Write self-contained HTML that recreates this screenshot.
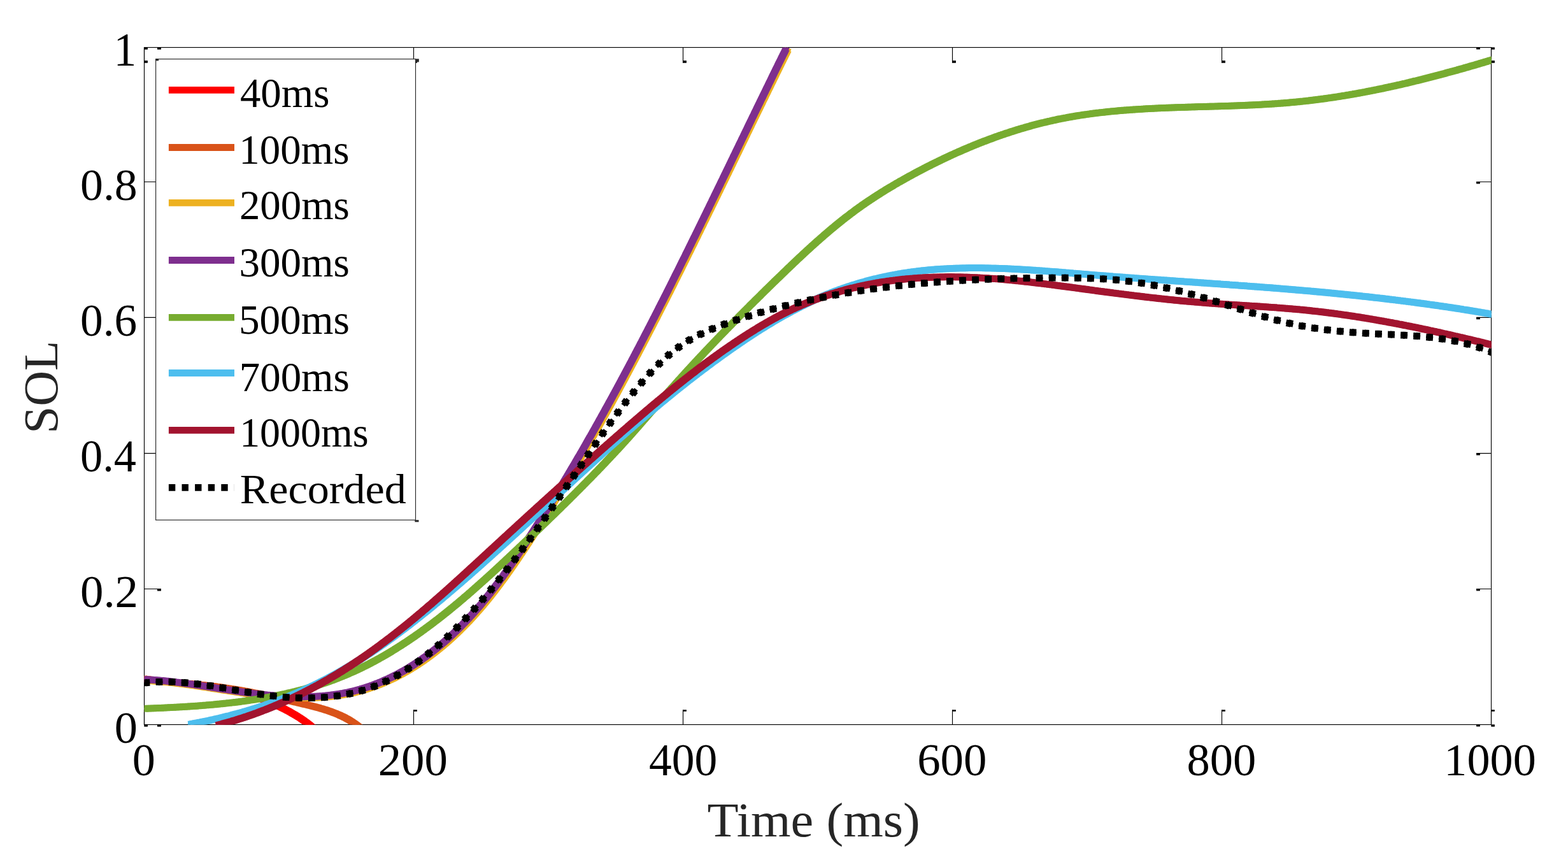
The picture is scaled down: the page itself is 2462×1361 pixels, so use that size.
<!DOCTYPE html><html><head><meta charset="utf-8"><title>SOL vs Time</title><style>html,body{margin:0;padding:0;background:#fff;overflow:hidden}svg{display:block}</style></head><body><svg width="2462" height="1361" viewBox="0 0 2462 1361">
<rect width="2462" height="1361" fill="#fff"/>
<defs><clipPath id="ax"><rect x="226.5" y="74.5" width="2115.0" height="1063.0"/></clipPath></defs>
<g stroke="#000" stroke-width="1.15" fill="none">
<rect x="226.5" y="74.5" width="2115.0" height="1063.0"/>
<path d="M226.5,1137.5V1114.2M226.5,74.5V98.8"/>
<path d="M649.5,1137.5V1114.2M649.5,74.5V98.8"/>
<path d="M1072.5,1137.5V1114.2M1072.5,74.5V98.8"/>
<path d="M1495.5,1137.5V1114.2M1495.5,74.5V98.8"/>
<path d="M1918.5,1137.5V1114.2M1918.5,74.5V98.8"/>
<path d="M2341.5,1137.5V1114.2M2341.5,74.5V98.8"/>
<path d="M226.5,1137.5H252.9M2341.5,1137.5H2318.1"/>
<path d="M226.5,924.5H252.9M2341.5,924.5H2318.1"/>
<path d="M226.5,711.6H252.9M2341.5,711.6H2318.1"/>
<path d="M226.5,498.3H252.9M2341.5,498.3H2318.1"/>
<path d="M226.5,285.5H252.9M2341.5,285.5H2318.1"/>
<path d="M226.5,74.5H252.9M2341.5,74.5H2318.1"/>
</g>
<g fill="#000"><rect x="226.3" y="1114.2" width="5.6" height="2.6"/><rect x="226.3" y="95.1" width="5.6" height="3.7"/><rect x="649.3" y="1114.2" width="5.6" height="2.6"/><rect x="649.3" y="95.1" width="5.6" height="3.7"/><rect x="1072.3" y="1114.2" width="5.6" height="2.6"/><rect x="1072.3" y="95.1" width="5.6" height="3.7"/><rect x="1495.3" y="1114.2" width="5.6" height="2.6"/><rect x="1495.3" y="95.1" width="5.6" height="3.7"/><rect x="1918.3" y="1114.2" width="5.6" height="2.6"/><rect x="1918.3" y="95.1" width="5.6" height="3.7"/><rect x="2341.3" y="1114.2" width="5.6" height="2.6"/><rect x="2341.3" y="95.1" width="5.6" height="3.7"/><rect x="247.0" y="1137.1" width="5.9" height="3.6"/><rect x="2318.1" y="1137.1" width="5.8" height="3.4"/><rect x="247.0" y="924.1" width="5.9" height="3.6"/><rect x="2318.1" y="924.1" width="5.8" height="3.4"/><rect x="247.0" y="711.2" width="5.9" height="3.6"/><rect x="2318.1" y="711.2" width="5.8" height="3.4"/><rect x="247.0" y="497.9" width="5.9" height="3.6"/><rect x="2318.1" y="497.9" width="5.8" height="3.4"/><rect x="247.0" y="285.1" width="5.9" height="3.6"/><rect x="2318.1" y="285.1" width="5.8" height="3.4"/><rect x="247.0" y="74.1" width="5.9" height="3.6"/><rect x="2318.1" y="74.1" width="5.8" height="3.4"/><rect x="226.3" y="74.3" width="5.6" height="3.4"/><rect x="2341.3" y="74.3" width="5.6" height="3.4"/><rect x="226.3" y="1137.3" width="5.6" height="3.4"/><rect x="2341.3" y="1137.3" width="5.6" height="3.4"/></g>
<g clip-path="url(#ax)" fill="none" stroke-linejoin="round" stroke-linecap="butt">
<g stroke="#FF0000" stroke-width="7.0">
<path id="c0" d="M226.5,1065.9 L228.5,1066.2 L230.5,1066.5 L232.4,1066.8 L234.4,1067.1 L236.4,1067.4 L238.3,1067.7 L240.3,1067.9 L242.3,1068.2 L244.3,1068.4 L246.3,1068.7 L248.2,1068.9 L250.2,1069.2 L252.2,1069.4 L254.2,1069.6 L256.2,1069.8 L258.2,1070.0 L260.2,1070.2 L262.2,1070.4 L264.2,1070.6 L266.2,1070.8 L268.2,1071.0 L270.2,1071.2 L272.2,1071.4 L274.2,1071.6 L276.2,1071.7 L278.2,1071.9 L280.2,1072.1 L282.2,1072.3 L284.2,1072.5 L286.2,1072.6 L288.2,1072.8 L290.2,1073.0 L292.2,1073.1 L294.2,1073.3 L296.2,1073.5 L298.2,1073.7 L300.2,1073.9 L302.2,1074.0 L304.2,1074.2 L306.2,1074.4 L308.2,1074.6 L310.2,1074.8 L312.2,1075.0 L314.2,1075.2 L316.2,1075.4 L318.2,1075.6 L320.2,1075.8 L322.2,1076.1 L324.2,1076.3 L326.2,1076.5 L328.2,1076.8 L330.2,1077.0 L332.2,1077.3 L334.1,1077.5 L336.1,1077.8 L338.1,1078.1 L340.1,1078.4 L342.1,1078.7 L344.0,1079.0 L346.0,1079.3 L348.0,1079.6 L349.9,1080.0 L351.9,1080.3 L353.8,1080.7 L355.8,1081.0 L357.8,1081.4 L359.7,1081.8 L361.7,1082.2 L363.6,1082.6 L365.5,1083.0 L367.5,1083.5 L369.4,1083.9 L371.3,1084.4 L373.3,1084.9 L375.2,1085.3 L377.1,1085.8 L379.0,1086.4 L381.0,1086.9 L382.9,1087.4 L384.8,1088.0 L386.7,1088.6 L388.6,1089.1 L390.5,1089.7 L392.4,1090.4 L394.2,1091.0 L396.1,1091.6 L398.0,1092.3 L399.9,1093.0 L401.8,1093.7 L403.6,1094.3 L405.5,1095.0 L407.4,1095.8 L409.2,1096.5 L411.1,1097.2 L412.9,1098.0 L414.8,1098.7 L416.7,1099.4 L418.5,1100.2 L420.4,1101.0 L422.2,1101.7 L424.1,1102.5 L425.9,1103.3 L427.7,1104.1 L429.6,1104.9 L431.4,1105.8 L433.2,1106.6 L435.0,1107.4 L436.9,1108.3 L438.7,1109.1 L440.5,1110.0 L442.3,1110.9 L444.1,1111.8 L445.9,1112.7 L447.7,1113.6 L449.4,1114.5 L451.2,1115.4 L453.0,1116.4 L454.7,1117.3 L456.5,1118.3 L458.2,1119.3 L459.9,1120.3 L461.7,1121.3 L463.4,1122.3 L465.1,1123.4 L466.8,1124.4 L468.5,1125.5 L470.2,1126.5 L471.8,1127.6 L473.5,1128.7 L475.1,1129.9 L476.8,1131.0 L478.4,1132.2 L480.0,1133.3 L481.6,1134.5 L483.2,1135.7 L484.8,1136.9 L486.4,1138.1 L487.9,1139.4 L489.5,1140.7 L491.0,1141.9 L492.6,1143.2 L494.1,1144.6 L495.6,1145.9 L497.0,1147.2 L498.5,1148.6 L500.0,1150.0" transform="translate(-1.85,-1.85)"/>
<use href="#c0" transform="translate(3.70,0.00)"/>
<use href="#c0" transform="translate(0.00,3.70)"/>
<use href="#c0" transform="translate(3.70,3.70)"/>
</g>
<g stroke="#D95319" stroke-width="7.0">
<path id="c1" d="M226.5,1065.9 L228.5,1066.1 L230.5,1066.4 L232.5,1066.6 L234.4,1066.9 L236.4,1067.1 L238.4,1067.4 L240.4,1067.6 L242.4,1067.8 L244.4,1068.1 L246.4,1068.3 L248.3,1068.5 L250.3,1068.7 L252.3,1069.0 L254.3,1069.2 L256.3,1069.4 L258.3,1069.6 L260.3,1069.8 L262.3,1070.0 L264.3,1070.2 L266.3,1070.4 L268.3,1070.6 L270.3,1070.8 L272.3,1071.0 L274.3,1071.2 L276.3,1071.4 L278.3,1071.6 L280.3,1071.8 L282.3,1072.0 L284.3,1072.2 L286.3,1072.4 L288.3,1072.6 L290.3,1072.8 L292.3,1072.9 L294.3,1073.1 L296.3,1073.3 L298.3,1073.5 L300.3,1073.7 L302.3,1073.9 L304.3,1074.1 L306.3,1074.3 L308.3,1074.5 L310.3,1074.7 L312.3,1074.9 L314.3,1075.1 L316.3,1075.3 L318.3,1075.6 L320.3,1075.8 L322.3,1076.0 L324.3,1076.2 L326.3,1076.4 L328.3,1076.7 L330.3,1076.9 L332.3,1077.1 L334.3,1077.4 L336.3,1077.6 L338.3,1077.8 L340.3,1078.1 L342.3,1078.3 L344.3,1078.6 L346.2,1078.9 L348.2,1079.1 L350.2,1079.4 L352.2,1079.7 L354.2,1080.0 L356.1,1080.3 L358.1,1080.6 L360.1,1080.8 L362.1,1081.2 L364.0,1081.5 L366.0,1081.8 L368.0,1082.1 L370.0,1082.4 L371.9,1082.7 L373.9,1083.1 L375.9,1083.4 L377.8,1083.7 L379.8,1084.1 L381.8,1084.4 L383.7,1084.8 L385.7,1085.1 L387.6,1085.5 L389.6,1085.9 L391.6,1086.2 L393.5,1086.6 L395.5,1087.0 L397.4,1087.4 L399.4,1087.8 L401.4,1088.1 L403.3,1088.5 L405.3,1088.9 L407.2,1089.3 L409.2,1089.7 L411.1,1090.1 L413.1,1090.6 L415.1,1091.0 L417.0,1091.4 L419.0,1091.8 L420.9,1092.2 L422.9,1092.7 L424.8,1093.1 L426.8,1093.5 L428.7,1094.0 L430.7,1094.4 L432.6,1094.8 L434.6,1095.3 L436.5,1095.7 L438.5,1096.2 L440.5,1096.6 L442.4,1097.1 L444.4,1097.5 L446.3,1098.0 L448.3,1098.5 L450.2,1098.9 L452.2,1099.4 L454.2,1099.8 L456.1,1100.3 L458.1,1100.8 L460.0,1101.2 L462.0,1101.7 L464.0,1102.1 L465.9,1102.6 L467.9,1103.1 L469.9,1103.5 L471.8,1104.0 L473.8,1104.4 L475.8,1104.9 L477.7,1105.4 L479.7,1105.8 L481.7,1106.3 L483.6,1106.8 L485.6,1107.3 L487.6,1107.7 L489.5,1108.2 L491.5,1108.7 L493.4,1109.2 L495.4,1109.7 L497.3,1110.3 L499.2,1110.8 L501.2,1111.3 L503.1,1111.9 L505.0,1112.4 L507.0,1113.0 L508.9,1113.6 L510.8,1114.2 L512.7,1114.8 L514.6,1115.4 L516.5,1116.1 L518.4,1116.7 L520.2,1117.4 L522.1,1118.1 L524.0,1118.8 L525.8,1119.5 L527.6,1120.2 L529.5,1121.0 L531.3,1121.8 L533.1,1122.6 L534.9,1123.4 L536.7,1124.2 L538.5,1125.1 L540.3,1125.9 L542.0,1126.8 L543.8,1127.8 L545.5,1128.7 L547.2,1129.7 L548.9,1130.7 L550.6,1131.7 L552.3,1132.8 L554.0,1133.9 L555.6,1135.0 L557.3,1136.1 L558.9,1137.3 L560.5,1138.4 L562.1,1139.7 L563.7,1140.9 L565.2,1142.2 L566.8,1143.5 L568.3,1144.9 L569.8,1146.3 L571.3,1147.7" transform="translate(-1.85,-1.85)"/>
<use href="#c1" transform="translate(3.70,0.00)"/>
<use href="#c1" transform="translate(0.00,3.70)"/>
<use href="#c1" transform="translate(3.70,3.70)"/>
</g>
<g stroke="#EDB120" stroke-width="7.0">
<path id="c2" d="M227.0,1066.6 L228.9,1066.6 L230.9,1066.7 L232.8,1066.8 L234.8,1067.0 L236.7,1067.1 L238.7,1067.2 L240.6,1067.3 L242.6,1067.5 L244.5,1067.6 L246.5,1067.8 L248.4,1067.9 L250.4,1068.1 L252.4,1068.3 L254.3,1068.4 L256.3,1068.6 L258.2,1068.8 L260.2,1069.0 L262.1,1069.2 L264.1,1069.4 L266.1,1069.6 L268.0,1069.8 L270.0,1070.1 L272.0,1070.3 L273.9,1070.5 L275.9,1070.8 L277.9,1071.0 L279.8,1071.3 L281.8,1071.5 L283.8,1071.8 L285.7,1072.0 L287.7,1072.3 L289.7,1072.6 L291.6,1072.8 L293.6,1073.1 L295.6,1073.4 L297.6,1073.7 L299.5,1073.9 L301.5,1074.2 L303.5,1074.5 L305.5,1074.8 L307.4,1075.1 L309.4,1075.4 L311.4,1075.7 L313.4,1076.0 L315.4,1076.3 L317.3,1076.6 L319.3,1076.9 L321.3,1077.2 L323.3,1077.5 L325.3,1077.8 L327.2,1078.1 L329.2,1078.4 L331.2,1078.8 L333.2,1079.1 L335.2,1079.4 L337.2,1079.7 L339.2,1080.0 L341.2,1080.3 L343.1,1080.6 L345.1,1080.9 L347.1,1081.3 L349.1,1081.6 L351.1,1081.9 L353.1,1082.2 L355.1,1082.5 L357.1,1082.8 L359.1,1083.1 L361.1,1083.4 L363.1,1083.7 L365.1,1084.0 L367.1,1084.3 L369.1,1084.6 L371.1,1084.9 L373.0,1085.2 L375.0,1085.5 L377.0,1085.8 L379.0,1086.1 L381.0,1086.4 L383.0,1086.6 L385.1,1086.9 L387.1,1087.2 L389.1,1087.5 L391.1,1087.7 L393.1,1088.0 L395.1,1088.2 L397.1,1088.5 L399.1,1088.8 L401.1,1089.0 L403.1,1089.2 L405.1,1089.5 L407.1,1089.7 L409.1,1089.9 L411.1,1090.2 L413.1,1090.4 L415.1,1090.6 L417.2,1090.8 L419.2,1091.0 L421.2,1091.2 L423.2,1091.4 L425.2,1091.6 L427.2,1091.7 L429.2,1091.9 L431.2,1092.1 L433.3,1092.2 L435.3,1092.4 L437.3,1092.5 L439.3,1092.7 L441.3,1092.8 L443.3,1092.9 L445.4,1093.0 L447.4,1093.1 L449.4,1093.2 L451.4,1093.3 L453.4,1093.4 L455.5,1093.5 L457.5,1093.6 L459.5,1093.6 L461.5,1093.7 L463.5,1093.7 L465.5,1093.8 L467.5,1093.8 L469.6,1093.8 L471.6,1093.8 L473.6,1093.8 L475.6,1093.8 L477.6,1093.8 L479.6,1093.8 L481.6,1093.7 L483.6,1093.7 L485.6,1093.6 L487.7,1093.6 L489.7,1093.5 L491.7,1093.4 L493.7,1093.3 L495.7,1093.2 L497.7,1093.1 L499.7,1093.0 L501.6,1092.8 L503.6,1092.7 L505.6,1092.5 L507.6,1092.4 L509.6,1092.2 L511.6,1092.0 L513.6,1091.8 L515.6,1091.6 L517.5,1091.4 L519.5,1091.2 L521.5,1090.9 L523.5,1090.7 L525.4,1090.4 L527.4,1090.1 L529.3,1089.8 L531.3,1089.5 L533.3,1089.2 L535.2,1088.9 L537.2,1088.5 L539.1,1088.2 L541.1,1087.8 L543.0,1087.4 L544.9,1087.1 L546.9,1086.7 L548.8,1086.2 L550.7,1085.8 L552.7,1085.4 L554.6,1084.9 L556.5,1084.4 L558.4,1084.0 L560.3,1083.5 L562.2,1083.0 L564.1,1082.4 L566.0,1081.9 L567.9,1081.3 L569.8,1080.8 L571.7,1080.2 L573.6,1079.6 L575.5,1079.0 L577.3,1078.4 L579.2,1077.8 L581.1,1077.1 L582.9,1076.5 L584.8,1075.8 L586.6,1075.1 L588.5,1074.4 L590.3,1073.7 L592.2,1073.0 L594.0,1072.3 L595.8,1071.5 L597.7,1070.8 L599.5,1070.0 L601.3,1069.2 L603.1,1068.4 L604.9,1067.6 L606.7,1066.8 L608.5,1066.0 L610.3,1065.2 L612.1,1064.3 L613.9,1063.5 L615.7,1062.6 L617.5,1061.7 L619.2,1060.8 L621.0,1059.9 L622.8,1059.0 L624.5,1058.1 L626.3,1057.1 L628.0,1056.2 L629.8,1055.2 L631.5,1054.3 L633.3,1053.3 L635.0,1052.3 L636.7,1051.3 L638.4,1050.3 L640.1,1049.3 L641.9,1048.3 L643.6,1047.2 L645.3,1046.2 L647.0,1045.1 L648.6,1044.1 L650.3,1043.0 L652.0,1041.9 L653.7,1040.8 L655.3,1039.7 L657.0,1038.6 L658.7,1037.5 L660.3,1036.4 L662.0,1035.2 L663.6,1034.1 L665.2,1032.9 L666.9,1031.8 L668.5,1030.6 L670.1,1029.4 L671.7,1028.2 L673.4,1027.0 L675.0,1025.8 L676.6,1024.6 L678.1,1023.4 L679.7,1022.2 L681.3,1020.9 L682.9,1019.7 L684.5,1018.4 L686.0,1017.2 L687.6,1015.9 L689.1,1014.6 L690.7,1013.4 L692.2,1012.1 L693.8,1010.8 L695.3,1009.5 L696.8,1008.2 L698.3,1006.9 L699.9,1005.5 L701.4,1004.2 L702.9,1002.9 L704.4,1001.5 L705.8,1000.2 L707.3,998.9 L708.8,997.5 L710.3,996.1 L711.7,994.8 L713.2,993.4 L714.6,992.0 L716.1,990.6 L717.5,989.2 L719.0,987.8 L720.4,986.4 L721.8,985.0 L723.2,983.6 L724.6,982.2 L726.0,980.8 L727.4,979.3 L728.8,977.9 L730.2,976.5 L731.6,975.0 L733.0,973.6 L734.4,972.1 L735.7,970.7 L737.1,969.2 L738.4,967.7 L739.8,966.3 L741.1,964.8 L742.5,963.3 L743.8,961.8 L745.1,960.3 L746.4,958.8 L747.8,957.3 L749.1,955.8 L750.4,954.3 L751.7,952.8 L753.0,951.3 L754.3,949.8 L755.6,948.3 L756.9,946.7 L758.1,945.2 L759.4,943.7 L760.7,942.1 L762.0,940.6 L763.2,939.0 L764.5,937.5 L765.7,935.9 L767.0,934.3 L768.2,932.8 L769.5,931.2 L770.7,929.6 L771.9,928.1 L773.2,926.5 L774.4,924.9 L775.6,923.3 L776.8,921.7 L778.0,920.1 L779.2,918.6 L780.4,917.0 L781.7,915.4 L782.8,913.8 L784.0,912.1 L785.2,910.5 L786.4,908.9 L787.6,907.3 L788.8,905.7 L790.0,904.1 L791.1,902.4 L792.3,900.8 L793.5,899.2 L794.6,897.6 L795.8,895.9 L797.0,894.3 L798.1,892.7 L799.3,891.0 L800.4,889.4 L801.6,887.7 L802.7,886.1 L803.9,884.4 L805.0,882.8 L806.1,881.1 L807.3,879.5 L808.4,877.8 L809.5,876.2 L810.7,874.5 L811.8,872.8 L812.9,871.2 L814.0,869.5 L815.1,867.8 L816.3,866.2 L817.4,864.5 L818.5,862.8 L819.6,861.1 L820.7,859.5 L821.8,857.8 L822.9,856.1 L824.0,854.4 L825.1,852.8 L826.2,851.1 L827.3,849.4 L828.4,847.7 L829.5,846.0 L830.6,844.3 L831.7,842.7 L832.8,841.0 L833.9,839.3 L834.9,837.6 L836.0,835.9 L837.1,834.2 L838.2,832.5 L839.3,830.8 L840.3,829.1 L841.4,827.5 L842.5,825.8 L843.6,824.1 L844.7,822.4 L845.7,820.7 L846.8,819.0 L847.9,817.3 L848.9,815.6 L850.0,813.9 L851.1,812.2 L852.1,810.5 L853.2,808.8 L854.3,807.1 L855.3,805.4 L856.4,803.7 L857.5,802.0 L858.5,800.3 L859.6,798.6 L860.6,796.9 L861.7,795.2 L862.7,793.5 L863.8,791.8 L864.8,790.1 L865.9,788.4 L867.0,786.7 L868.0,784.9 L869.0,783.2 L870.1,781.5 L871.1,779.8 L872.2,778.1 L873.2,776.4 L874.3,774.7 L875.3,773.0 L876.3,771.3 L877.4,769.6 L878.4,767.8 L879.5,766.1 L880.5,764.4 L881.5,762.7 L882.6,761.0 L883.6,759.3 L884.6,757.6 L885.7,755.8 L886.7,754.1 L887.7,752.4 L888.7,750.7 L889.8,749.0 L890.8,747.2 L891.8,745.5 L892.8,743.8 L893.9,742.1 L894.9,740.4 L895.9,738.6 L896.9,736.9 L897.9,735.2 L898.9,733.5 L900.0,731.7 L901.0,730.0 L902.0,728.3 L903.0,726.6 L904.0,724.8 L905.0,723.1 L906.0,721.4 L907.0,719.6 L908.0,717.9 L909.1,716.2 L910.1,714.5 L911.1,712.7 L912.1,711.0 L913.1,709.3 L914.1,707.5 L915.1,705.8 L916.1,704.1 L917.1,702.3 L918.1,700.6 L919.1,698.9 L920.1,697.1 L921.0,695.4 L922.0,693.7 L923.0,691.9 L924.0,690.2 L925.0,688.4 L926.0,686.7 L927.0,685.0 L928.0,683.2 L929.0,681.5 L930.0,679.7 L930.9,678.0 L931.9,676.3 L932.9,674.5 L933.9,672.8 L934.9,671.0 L935.8,669.3 L936.8,667.6 L937.8,665.8 L938.8,664.1 L939.8,662.3 L940.7,660.6 L941.7,658.8 L942.7,657.1 L943.7,655.3 L944.6,653.6 L945.6,651.8 L946.6,650.1 L947.5,648.3 L948.5,646.6 L949.5,644.8 L950.4,643.1 L951.4,641.3 L952.4,639.6 L953.3,637.8 L954.3,636.1 L955.3,634.3 L956.2,632.6 L957.2,630.8 L958.2,629.1 L959.1,627.3 L960.1,625.6 L961.0,623.8 L962.0,622.1 L962.9,620.3 L963.9,618.5 L964.9,616.8 L965.8,615.0 L966.8,613.3 L967.7,611.5 L968.7,609.8 L969.6,608.0 L970.6,606.2 L971.5,604.5 L972.5,602.7 L973.4,601.0 L974.4,599.2 L975.3,597.4 L976.3,595.7 L977.2,593.9 L978.2,592.2 L979.1,590.4 L980.0,588.6 L981.0,586.9 L981.9,585.1 L982.9,583.3 L983.8,581.6 L984.7,579.8 L985.7,578.1 L986.6,576.3 L987.6,574.5 L988.5,572.8 L989.4,571.0 L990.4,569.2 L991.3,567.5 L992.2,565.7 L993.2,563.9 L994.1,562.2 L995.0,560.4 L996.0,558.6 L996.9,556.8 L997.8,555.1 L998.8,553.3 L999.7,551.5 L1000.6,549.8 L1001.5,548.0 L1002.5,546.2 L1003.4,544.4 L1004.3,542.7 L1005.2,540.9 L1006.2,539.1 L1007.1,537.4 L1008.0,535.6 L1008.9,533.8 L1009.9,532.0 L1010.8,530.3 L1011.7,528.5 L1012.6,526.7 L1013.5,524.9 L1014.5,523.2 L1015.4,521.4 L1016.3,519.6 L1017.2,517.8 L1018.1,516.1 L1019.0,514.3 L1020.0,512.5 L1020.9,510.7 L1021.8,508.9 L1022.7,507.2 L1023.6,505.4 L1024.5,503.6 L1025.4,501.8 L1026.3,500.0 L1027.3,498.3 L1028.2,496.5 L1029.1,494.7 L1030.0,492.9 L1030.9,491.1 L1031.8,489.4 L1032.7,487.6 L1033.6,485.8 L1034.5,484.0 L1035.4,482.2 L1036.3,480.5 L1037.2,478.7 L1038.1,476.9 L1039.1,475.1 L1040.0,473.3 L1040.9,471.5 L1041.8,469.8 L1042.7,468.0 L1043.6,466.2 L1044.5,464.4 L1045.4,462.6 L1046.3,460.8 L1047.2,459.0 L1048.1,457.3 L1049.0,455.5 L1049.9,453.7 L1050.8,451.9 L1051.7,450.1 L1052.6,448.3 L1053.5,446.5 L1054.4,444.7 L1055.3,443.0 L1056.1,441.2 L1057.0,439.4 L1057.9,437.6 L1058.8,435.8 L1059.7,434.0 L1060.6,432.2 L1061.5,430.4 L1062.4,428.6 L1063.3,426.9 L1064.2,425.1 L1065.1,423.3 L1066.0,421.5 L1066.9,419.7 L1067.8,417.9 L1068.6,416.1 L1069.5,414.3 L1070.4,412.5 L1071.3,410.7 L1072.2,408.9 L1073.1,407.1 L1074.0,405.4 L1074.9,403.6 L1075.8,401.8 L1076.6,400.0 L1077.5,398.2 L1078.4,396.4 L1079.3,394.6 L1080.2,392.8 L1081.1,391.0 L1082.0,389.2 L1082.8,387.4 L1083.7,385.6 L1084.6,383.8 L1085.5,382.0 L1086.4,380.2 L1087.3,378.4 L1088.1,376.6 L1089.0,374.8 L1089.9,373.1 L1090.8,371.3 L1091.7,369.5 L1092.6,367.7 L1093.4,365.9 L1094.3,364.1 L1095.2,362.3 L1096.1,360.5 L1097.0,358.7 L1097.8,356.9 L1098.7,355.1 L1099.6,353.3 L1100.5,351.5 L1101.4,349.7 L1102.2,347.9 L1103.1,346.1 L1104.0,344.3 L1104.9,342.5 L1105.8,340.7 L1106.6,338.9 L1107.5,337.1 L1108.4,335.3 L1109.3,333.5 L1110.1,331.7 L1111.0,329.9 L1111.9,328.1 L1112.8,326.3 L1113.7,324.5 L1114.5,322.7 L1115.4,320.9 L1116.3,319.1 L1117.2,317.3 L1118.0,315.5 L1118.9,313.7 L1119.8,311.9 L1120.7,310.1 L1121.5,308.3 L1122.4,306.5 L1123.3,304.7 L1124.2,302.9 L1125.0,301.1 L1125.9,299.3 L1126.8,297.5 L1127.7,295.7 L1128.5,293.9 L1129.4,292.1 L1130.3,290.3 L1131.2,288.5 L1132.0,286.7 L1132.9,284.9 L1133.8,283.1 L1134.7,281.3 L1135.5,279.5 L1136.4,277.7 L1137.3,275.9 L1138.1,274.1 L1139.0,272.3 L1139.9,270.5 L1140.8,268.7 L1141.6,266.9 L1142.5,265.1 L1143.4,263.3 L1144.3,261.5 L1145.1,259.7 L1146.0,257.9 L1146.9,256.0 L1147.8,254.2 L1148.6,252.4 L1149.5,250.6 L1150.4,248.8 L1151.2,247.0 L1152.1,245.2 L1153.0,243.4 L1153.9,241.6 L1154.7,239.8 L1155.6,238.0 L1156.5,236.2 L1157.4,234.4 L1158.2,232.6 L1159.1,230.8 L1160.0,229.0 L1160.8,227.2 L1161.7,225.4 L1162.6,223.6 L1163.5,221.8 L1164.3,220.0 L1165.2,218.2 L1166.1,216.4 L1167.0,214.6 L1167.8,212.8 L1168.7,211.0 L1169.6,209.2 L1170.4,207.4 L1171.3,205.6 L1172.2,203.8 L1173.1,202.0 L1173.9,200.2 L1174.8,198.3 L1175.7,196.5 L1176.6,194.7 L1177.4,192.9 L1178.3,191.1 L1179.2,189.3 L1180.1,187.5 L1180.9,185.7 L1181.8,183.9 L1182.7,182.1 L1183.6,180.3 L1184.4,178.5 L1185.3,176.7 L1186.2,174.9 L1187.1,173.1 L1187.9,171.3 L1188.8,169.5 L1189.7,167.7 L1190.6,165.9 L1191.4,164.1 L1192.3,162.3 L1193.2,160.5 L1194.1,158.7 L1194.9,156.9 L1195.8,155.1 L1196.7,153.3 L1197.6,151.5 L1198.5,149.7 L1199.3,147.9 L1200.2,146.1 L1201.1,144.3 L1202.0,142.5 L1202.8,140.7 L1203.7,138.9 L1204.6,137.1 L1205.5,135.3 L1206.4,133.5 L1207.2,131.7 L1208.1,129.9 L1209.0,128.1 L1209.9,126.3 L1210.8,124.5 L1211.6,122.7 L1212.5,120.8 L1213.4,119.0 L1214.3,117.2 L1215.2,115.4 L1216.0,113.6 L1216.9,111.8 L1217.8,110.0 L1218.7,108.2 L1219.6,106.4 L1220.5,104.6 L1221.3,102.8 L1222.2,101.0 L1223.1,99.2 L1224.0,97.4 L1224.9,95.6 L1225.8,93.8 L1226.7,92.0 L1227.5,90.2 L1228.4,88.5 L1229.3,86.7 L1230.2,84.9 L1231.1,83.1 L1232.0,81.3 L1232.9,79.5 L1233.7,77.7 L1234.6,75.9" transform="translate(1.15,-0.05)"/>
<use href="#c2" transform="translate(3.70,0.00)"/>
<use href="#c2" transform="translate(0.00,3.70)"/>
<use href="#c2" transform="translate(3.70,3.70)"/>
</g>
<g stroke="#7E2F8E" stroke-width="7.0">
<path id="c3" d="M227.0,1066.6 L228.9,1066.6 L230.9,1066.7 L232.8,1066.8 L234.8,1067.0 L236.7,1067.1 L238.7,1067.2 L240.6,1067.3 L242.6,1067.5 L244.5,1067.6 L246.5,1067.8 L248.4,1067.9 L250.4,1068.1 L252.4,1068.3 L254.3,1068.4 L256.3,1068.6 L258.2,1068.8 L260.2,1069.0 L262.1,1069.2 L264.1,1069.4 L266.1,1069.6 L268.0,1069.8 L270.0,1070.1 L272.0,1070.3 L273.9,1070.5 L275.9,1070.8 L277.9,1071.0 L279.8,1071.3 L281.8,1071.5 L283.8,1071.8 L285.7,1072.0 L287.7,1072.3 L289.7,1072.6 L291.6,1072.8 L293.6,1073.1 L295.6,1073.4 L297.6,1073.7 L299.5,1073.9 L301.5,1074.2 L303.5,1074.5 L305.5,1074.8 L307.4,1075.1 L309.4,1075.4 L311.4,1075.7 L313.4,1076.0 L315.4,1076.3 L317.3,1076.6 L319.3,1076.9 L321.3,1077.2 L323.3,1077.5 L325.3,1077.8 L327.2,1078.1 L329.2,1078.4 L331.2,1078.8 L333.2,1079.1 L335.2,1079.4 L337.2,1079.7 L339.2,1080.0 L341.2,1080.3 L343.1,1080.6 L345.1,1080.9 L347.1,1081.3 L349.1,1081.6 L351.1,1081.9 L353.1,1082.2 L355.1,1082.5 L357.1,1082.8 L359.1,1083.1 L361.1,1083.4 L363.1,1083.7 L365.1,1084.0 L367.1,1084.3 L369.1,1084.6 L371.1,1084.9 L373.0,1085.2 L375.0,1085.5 L377.0,1085.8 L379.0,1086.1 L381.0,1086.4 L383.0,1086.6 L385.1,1086.9 L387.1,1087.2 L389.1,1087.5 L391.1,1087.7 L393.1,1088.0 L395.1,1088.2 L397.1,1088.5 L399.1,1088.8 L401.1,1089.0 L403.1,1089.2 L405.1,1089.5 L407.1,1089.7 L409.1,1089.9 L411.1,1090.2 L413.1,1090.4 L415.1,1090.6 L417.2,1090.8 L419.2,1091.0 L421.2,1091.2 L423.2,1091.4 L425.2,1091.6 L427.2,1091.7 L429.2,1091.9 L431.2,1092.1 L433.3,1092.2 L435.3,1092.4 L437.3,1092.5 L439.3,1092.7 L441.3,1092.8 L443.3,1092.9 L445.4,1093.0 L447.4,1093.1 L449.4,1093.2 L451.4,1093.3 L453.4,1093.4 L455.5,1093.5 L457.5,1093.6 L459.5,1093.6 L461.5,1093.7 L463.5,1093.7 L465.5,1093.8 L467.5,1093.8 L469.6,1093.8 L471.6,1093.8 L473.6,1093.8 L475.6,1093.8 L477.6,1093.8 L479.6,1093.8 L481.6,1093.7 L483.6,1093.7 L485.6,1093.6 L487.7,1093.6 L489.7,1093.5 L491.7,1093.4 L493.7,1093.3 L495.7,1093.2 L497.7,1093.1 L499.7,1093.0 L501.6,1092.8 L503.6,1092.7 L505.6,1092.5 L507.6,1092.4 L509.6,1092.2 L511.6,1092.0 L513.6,1091.8 L515.6,1091.6 L517.5,1091.4 L519.5,1091.2 L521.5,1090.9 L523.5,1090.7 L525.4,1090.4 L527.4,1090.1 L529.3,1089.8 L531.3,1089.5 L533.3,1089.2 L535.2,1088.9 L537.2,1088.5 L539.1,1088.2 L541.1,1087.8 L543.0,1087.4 L544.9,1087.1 L546.9,1086.7 L548.8,1086.2 L550.7,1085.8 L552.7,1085.4 L554.6,1084.9 L556.5,1084.4 L558.4,1084.0 L560.3,1083.5 L562.2,1083.0 L564.1,1082.4 L566.0,1081.9 L567.9,1081.3 L569.8,1080.8 L571.7,1080.2 L573.6,1079.6 L575.5,1079.0 L577.3,1078.4 L579.2,1077.8 L581.1,1077.1 L582.9,1076.5 L584.8,1075.8 L586.6,1075.1 L588.5,1074.4 L590.3,1073.7 L592.2,1073.0 L594.0,1072.3 L595.8,1071.5 L597.7,1070.8 L599.5,1070.0 L601.3,1069.2 L603.1,1068.4 L604.9,1067.6 L606.7,1066.8 L608.5,1066.0 L610.3,1065.2 L612.1,1064.3 L613.9,1063.5 L615.7,1062.6 L617.5,1061.7 L619.2,1060.8 L621.0,1059.9 L622.8,1059.0 L624.5,1058.1 L626.3,1057.1 L628.0,1056.2 L629.8,1055.2 L631.5,1054.3 L633.3,1053.3 L635.0,1052.3 L636.7,1051.3 L638.4,1050.3 L640.1,1049.3 L641.9,1048.3 L643.6,1047.2 L645.3,1046.2 L647.0,1045.1 L648.6,1044.1 L650.3,1043.0 L652.0,1041.9 L653.7,1040.8 L655.3,1039.7 L657.0,1038.6 L658.7,1037.5 L660.3,1036.4 L662.0,1035.2 L663.6,1034.1 L665.2,1032.9 L666.9,1031.8 L668.5,1030.6 L670.1,1029.4 L671.7,1028.2 L673.4,1027.0 L675.0,1025.8 L676.6,1024.6 L678.1,1023.4 L679.7,1022.2 L681.3,1020.9 L682.9,1019.7 L684.5,1018.4 L686.0,1017.2 L687.6,1015.9 L689.1,1014.6 L690.7,1013.4 L692.2,1012.1 L693.8,1010.8 L695.3,1009.5 L696.8,1008.2 L698.3,1006.9 L699.9,1005.5 L701.4,1004.2 L702.9,1002.9 L704.4,1001.5 L705.8,1000.2 L707.3,998.9 L708.8,997.5 L710.3,996.1 L711.7,994.8 L713.2,993.4 L714.6,992.0 L716.1,990.6 L717.5,989.2 L719.0,987.8 L720.4,986.4 L721.8,985.0 L723.2,983.6 L724.6,982.2 L726.0,980.8 L727.4,979.3 L728.8,977.9 L730.2,976.5 L731.6,975.0 L733.0,973.6 L734.4,972.1 L735.7,970.7 L737.1,969.2 L738.4,967.7 L739.8,966.3 L741.1,964.8 L742.5,963.3 L743.8,961.8 L745.1,960.3 L746.4,958.8 L747.8,957.3 L749.1,955.8 L750.4,954.3 L751.7,952.8 L753.0,951.3 L754.3,949.8 L755.6,948.3 L756.9,946.7 L758.1,945.2 L759.4,943.7 L760.7,942.1 L762.0,940.6 L763.2,939.0 L764.5,937.5 L765.7,935.9 L767.0,934.3 L768.2,932.8 L769.5,931.2 L770.7,929.6 L771.9,928.1 L773.2,926.5 L774.4,924.9 L775.6,923.3 L776.8,921.7 L778.0,920.1 L779.2,918.6 L780.4,917.0 L781.7,915.4 L782.8,913.8 L784.0,912.1 L785.2,910.5 L786.4,908.9 L787.6,907.3 L788.8,905.7 L790.0,904.1 L791.1,902.4 L792.3,900.8 L793.5,899.2 L794.6,897.6 L795.8,895.9 L797.0,894.3 L798.1,892.7 L799.3,891.0 L800.4,889.4 L801.6,887.7 L802.7,886.1 L803.9,884.4 L805.0,882.8 L806.1,881.1 L807.3,879.5 L808.4,877.8 L809.5,876.2 L810.7,874.5 L811.8,872.8 L812.9,871.2 L814.0,869.5 L815.1,867.8 L816.3,866.2 L817.4,864.5 L818.5,862.8 L819.6,861.1 L820.7,859.5 L821.8,857.8 L822.9,856.1 L824.0,854.4 L825.1,852.8 L826.2,851.1 L827.3,849.4 L828.4,847.7 L829.5,846.0 L830.6,844.3 L831.7,842.7 L832.8,841.0 L833.9,839.3 L834.9,837.6 L836.0,835.9 L837.1,834.2 L838.2,832.5 L839.3,830.8 L840.3,829.1 L841.4,827.5 L842.5,825.8 L843.6,824.1 L844.7,822.4 L845.7,820.7 L846.8,819.0 L847.9,817.3 L848.9,815.6 L850.0,813.9 L851.1,812.2 L852.1,810.5 L853.2,808.8 L854.3,807.1 L855.3,805.4 L856.4,803.7 L857.5,802.0 L858.5,800.3 L859.6,798.6 L860.6,796.9 L861.7,795.2 L862.7,793.5 L863.8,791.8 L864.8,790.1 L865.9,788.4 L867.0,786.7 L868.0,784.9 L869.0,783.2 L870.1,781.5 L871.1,779.8 L872.2,778.1 L873.2,776.4 L874.3,774.7 L875.3,773.0 L876.3,771.3 L877.4,769.6 L878.4,767.8 L879.5,766.1 L880.5,764.4 L881.5,762.7 L882.6,761.0 L883.6,759.3 L884.6,757.6 L885.7,755.8 L886.7,754.1 L887.7,752.4 L888.7,750.7 L889.8,749.0 L890.8,747.2 L891.8,745.5 L892.8,743.8 L893.9,742.1 L894.9,740.4 L895.9,738.6 L896.9,736.9 L897.9,735.2 L898.9,733.5 L900.0,731.7 L901.0,730.0 L902.0,728.3 L903.0,726.6 L904.0,724.8 L905.0,723.1 L906.0,721.4 L907.0,719.6 L908.0,717.9 L909.1,716.2 L910.1,714.5 L911.1,712.7 L912.1,711.0 L913.1,709.3 L914.1,707.5 L915.1,705.8 L916.1,704.1 L917.1,702.3 L918.1,700.6 L919.1,698.9 L920.1,697.1 L921.0,695.4 L922.0,693.7 L923.0,691.9 L924.0,690.2 L925.0,688.4 L926.0,686.7 L927.0,685.0 L928.0,683.2 L929.0,681.5 L930.0,679.7 L930.9,678.0 L931.9,676.3 L932.9,674.5 L933.9,672.8 L934.9,671.0 L935.8,669.3 L936.8,667.6 L937.8,665.8 L938.8,664.1 L939.8,662.3 L940.7,660.6 L941.7,658.8 L942.7,657.1 L943.7,655.3 L944.6,653.6 L945.6,651.8 L946.6,650.1 L947.5,648.3 L948.5,646.6 L949.5,644.8 L950.4,643.1 L951.4,641.3 L952.4,639.6 L953.3,637.8 L954.3,636.1 L955.3,634.3 L956.2,632.6 L957.2,630.8 L958.2,629.1 L959.1,627.3 L960.1,625.6 L961.0,623.8 L962.0,622.1 L962.9,620.3 L963.9,618.5 L964.9,616.8 L965.8,615.0 L966.8,613.3 L967.7,611.5 L968.7,609.8 L969.6,608.0 L970.6,606.2 L971.5,604.5 L972.5,602.7 L973.4,601.0 L974.4,599.2 L975.3,597.4 L976.3,595.7 L977.2,593.9 L978.2,592.2 L979.1,590.4 L980.0,588.6 L981.0,586.9 L981.9,585.1 L982.9,583.3 L983.8,581.6 L984.7,579.8 L985.7,578.1 L986.6,576.3 L987.6,574.5 L988.5,572.8 L989.4,571.0 L990.4,569.2 L991.3,567.5 L992.2,565.7 L993.2,563.9 L994.1,562.2 L995.0,560.4 L996.0,558.6 L996.9,556.8 L997.8,555.1 L998.8,553.3 L999.7,551.5 L1000.6,549.8 L1001.5,548.0 L1002.5,546.2 L1003.4,544.4 L1004.3,542.7 L1005.2,540.9 L1006.2,539.1 L1007.1,537.4 L1008.0,535.6 L1008.9,533.8 L1009.9,532.0 L1010.8,530.3 L1011.7,528.5 L1012.6,526.7 L1013.5,524.9 L1014.5,523.2 L1015.4,521.4 L1016.3,519.6 L1017.2,517.8 L1018.1,516.1 L1019.0,514.3 L1020.0,512.5 L1020.9,510.7 L1021.8,508.9 L1022.7,507.2 L1023.6,505.4 L1024.5,503.6 L1025.4,501.8 L1026.3,500.0 L1027.3,498.3 L1028.2,496.5 L1029.1,494.7 L1030.0,492.9 L1030.9,491.1 L1031.8,489.4 L1032.7,487.6 L1033.6,485.8 L1034.5,484.0 L1035.4,482.2 L1036.3,480.5 L1037.2,478.7 L1038.1,476.9 L1039.1,475.1 L1040.0,473.3 L1040.9,471.5 L1041.8,469.8 L1042.7,468.0 L1043.6,466.2 L1044.5,464.4 L1045.4,462.6 L1046.3,460.8 L1047.2,459.0 L1048.1,457.3 L1049.0,455.5 L1049.9,453.7 L1050.8,451.9 L1051.7,450.1 L1052.6,448.3 L1053.5,446.5 L1054.4,444.7 L1055.3,443.0 L1056.1,441.2 L1057.0,439.4 L1057.9,437.6 L1058.8,435.8 L1059.7,434.0 L1060.6,432.2 L1061.5,430.4 L1062.4,428.6 L1063.3,426.9 L1064.2,425.1 L1065.1,423.3 L1066.0,421.5 L1066.9,419.7 L1067.8,417.9 L1068.6,416.1 L1069.5,414.3 L1070.4,412.5 L1071.3,410.7 L1072.2,408.9 L1073.1,407.1 L1074.0,405.4 L1074.9,403.6 L1075.8,401.8 L1076.6,400.0 L1077.5,398.2 L1078.4,396.4 L1079.3,394.6 L1080.2,392.8 L1081.1,391.0 L1082.0,389.2 L1082.8,387.4 L1083.7,385.6 L1084.6,383.8 L1085.5,382.0 L1086.4,380.2 L1087.3,378.4 L1088.1,376.6 L1089.0,374.8 L1089.9,373.1 L1090.8,371.3 L1091.7,369.5 L1092.6,367.7 L1093.4,365.9 L1094.3,364.1 L1095.2,362.3 L1096.1,360.5 L1097.0,358.7 L1097.8,356.9 L1098.7,355.1 L1099.6,353.3 L1100.5,351.5 L1101.4,349.7 L1102.2,347.9 L1103.1,346.1 L1104.0,344.3 L1104.9,342.5 L1105.8,340.7 L1106.6,338.9 L1107.5,337.1 L1108.4,335.3 L1109.3,333.5 L1110.1,331.7 L1111.0,329.9 L1111.9,328.1 L1112.8,326.3 L1113.7,324.5 L1114.5,322.7 L1115.4,320.9 L1116.3,319.1 L1117.2,317.3 L1118.0,315.5 L1118.9,313.7 L1119.8,311.9 L1120.7,310.1 L1121.5,308.3 L1122.4,306.5 L1123.3,304.7 L1124.2,302.9 L1125.0,301.1 L1125.9,299.3 L1126.8,297.5 L1127.7,295.7 L1128.5,293.9 L1129.4,292.1 L1130.3,290.3 L1131.2,288.5 L1132.0,286.7 L1132.9,284.9 L1133.8,283.1 L1134.7,281.3 L1135.5,279.5 L1136.4,277.7 L1137.3,275.9 L1138.1,274.1 L1139.0,272.3 L1139.9,270.5 L1140.8,268.7 L1141.6,266.9 L1142.5,265.1 L1143.4,263.3 L1144.3,261.5 L1145.1,259.7 L1146.0,257.9 L1146.9,256.0 L1147.8,254.2 L1148.6,252.4 L1149.5,250.6 L1150.4,248.8 L1151.2,247.0 L1152.1,245.2 L1153.0,243.4 L1153.9,241.6 L1154.7,239.8 L1155.6,238.0 L1156.5,236.2 L1157.4,234.4 L1158.2,232.6 L1159.1,230.8 L1160.0,229.0 L1160.8,227.2 L1161.7,225.4 L1162.6,223.6 L1163.5,221.8 L1164.3,220.0 L1165.2,218.2 L1166.1,216.4 L1167.0,214.6 L1167.8,212.8 L1168.7,211.0 L1169.6,209.2 L1170.4,207.4 L1171.3,205.6 L1172.2,203.8 L1173.1,202.0 L1173.9,200.2 L1174.8,198.3 L1175.7,196.5 L1176.6,194.7 L1177.4,192.9 L1178.3,191.1 L1179.2,189.3 L1180.1,187.5 L1180.9,185.7 L1181.8,183.9 L1182.7,182.1 L1183.6,180.3 L1184.4,178.5 L1185.3,176.7 L1186.2,174.9 L1187.1,173.1 L1187.9,171.3 L1188.8,169.5 L1189.7,167.7 L1190.6,165.9 L1191.4,164.1 L1192.3,162.3 L1193.2,160.5 L1194.1,158.7 L1194.9,156.9 L1195.8,155.1 L1196.7,153.3 L1197.6,151.5 L1198.5,149.7 L1199.3,147.9 L1200.2,146.1 L1201.1,144.3 L1202.0,142.5 L1202.8,140.7 L1203.7,138.9 L1204.6,137.1 L1205.5,135.3 L1206.4,133.5 L1207.2,131.7 L1208.1,129.9 L1209.0,128.1 L1209.9,126.3 L1210.8,124.5 L1211.6,122.7 L1212.5,120.8 L1213.4,119.0 L1214.3,117.2 L1215.2,115.4 L1216.0,113.6 L1216.9,111.8 L1217.8,110.0 L1218.7,108.2 L1219.6,106.4 L1220.5,104.6 L1221.3,102.8 L1222.2,101.0 L1223.1,99.2 L1224.0,97.4 L1224.9,95.6 L1225.8,93.8 L1226.7,92.0 L1227.5,90.2 L1228.4,88.5 L1229.3,86.7 L1230.2,84.9 L1231.1,83.1 L1232.0,81.3 L1232.9,79.5 L1233.7,77.7 L1234.6,75.9" transform="translate(-1.85,-1.85)"/>
<use href="#c3" transform="translate(3.70,0.00)"/>
<use href="#c3" transform="translate(0.00,3.70)"/>
<use href="#c3" transform="translate(3.70,3.70)"/>
</g>
<g stroke="#77AC30" stroke-width="7.0">
<path id="c4" d="M227.5,1112.3 L229.4,1112.3 L231.3,1112.2 L233.2,1112.1 L235.1,1112.1 L237.0,1112.0 L238.9,1111.9 L240.8,1111.8 L242.8,1111.8 L244.7,1111.7 L246.6,1111.6 L248.5,1111.5 L250.4,1111.4 L252.4,1111.4 L254.3,1111.3 L256.2,1111.2 L258.2,1111.1 L260.1,1111.0 L262.0,1110.9 L264.0,1110.8 L265.9,1110.7 L267.9,1110.6 L269.8,1110.5 L271.8,1110.4 L273.8,1110.3 L275.7,1110.2 L277.7,1110.1 L279.6,1110.0 L281.6,1109.9 L283.6,1109.8 L285.6,1109.7 L287.5,1109.6 L289.5,1109.4 L291.5,1109.3 L293.5,1109.2 L295.4,1109.1 L297.4,1108.9 L299.4,1108.8 L301.4,1108.7 L303.4,1108.5 L305.4,1108.4 L307.4,1108.3 L309.4,1108.1 L311.4,1108.0 L313.3,1107.8 L315.3,1107.7 L317.3,1107.5 L319.3,1107.4 L321.3,1107.2 L323.4,1107.0 L325.4,1106.9 L327.4,1106.7 L329.4,1106.5 L331.4,1106.3 L333.4,1106.2 L335.4,1106.0 L337.4,1105.8 L339.4,1105.6 L341.4,1105.4 L343.4,1105.2 L345.4,1105.0 L347.5,1104.8 L349.5,1104.6 L351.5,1104.4 L353.5,1104.2 L355.5,1104.0 L357.5,1103.7 L359.6,1103.5 L361.6,1103.3 L363.6,1103.0 L365.6,1102.8 L367.6,1102.6 L369.6,1102.3 L371.7,1102.1 L373.7,1101.8 L375.7,1101.6 L377.7,1101.3 L379.7,1101.0 L381.7,1100.8 L383.8,1100.5 L385.8,1100.2 L387.8,1099.9 L389.8,1099.6 L391.8,1099.3 L393.8,1099.0 L395.8,1098.7 L397.9,1098.4 L399.9,1098.1 L401.9,1097.8 L403.9,1097.5 L405.9,1097.2 L407.9,1096.8 L409.9,1096.5 L411.9,1096.2 L413.9,1095.8 L415.9,1095.5 L417.9,1095.1 L419.9,1094.8 L421.9,1094.4 L423.9,1094.0 L425.9,1093.6 L427.9,1093.3 L429.9,1092.9 L431.9,1092.5 L433.9,1092.1 L435.9,1091.7 L437.9,1091.3 L439.9,1090.9 L441.9,1090.4 L443.9,1090.0 L445.8,1089.6 L447.8,1089.2 L449.8,1088.7 L451.8,1088.3 L453.7,1087.8 L455.7,1087.4 L457.7,1086.9 L459.7,1086.4 L461.6,1085.9 L463.6,1085.5 L465.6,1085.0 L467.5,1084.5 L469.5,1084.0 L471.4,1083.5 L473.4,1083.0 L475.3,1082.4 L477.3,1081.9 L479.2,1081.4 L481.2,1080.8 L483.1,1080.3 L485.0,1079.7 L487.0,1079.2 L488.9,1078.6 L490.8,1078.0 L492.7,1077.5 L494.7,1076.9 L496.6,1076.3 L498.5,1075.7 L500.4,1075.1 L502.3,1074.5 L504.2,1073.9 L506.1,1073.2 L508.0,1072.6 L509.9,1072.0 L511.8,1071.3 L513.7,1070.7 L515.6,1070.0 L517.5,1069.3 L519.3,1068.6 L521.2,1068.0 L523.1,1067.3 L524.9,1066.6 L526.8,1065.9 L528.7,1065.2 L530.5,1064.4 L532.4,1063.7 L534.2,1063.0 L536.0,1062.2 L537.9,1061.5 L539.7,1060.7 L541.6,1060.0 L543.4,1059.2 L545.2,1058.4 L547.0,1057.6 L548.8,1056.8 L550.7,1056.0 L552.5,1055.2 L554.3,1054.4 L556.1,1053.6 L557.9,1052.8 L559.7,1051.9 L561.5,1051.1 L563.2,1050.3 L565.0,1049.4 L566.8,1048.6 L568.6,1047.7 L570.4,1046.8 L572.1,1045.9 L573.9,1045.1 L575.7,1044.2 L577.4,1043.3 L579.2,1042.4 L580.9,1041.5 L582.7,1040.5 L584.4,1039.6 L586.2,1038.7 L587.9,1037.8 L589.7,1036.8 L591.4,1035.9 L593.1,1034.9 L594.9,1034.0 L596.6,1033.0 L598.3,1032.0 L600.0,1031.1 L601.7,1030.1 L603.5,1029.1 L605.2,1028.1 L606.9,1027.1 L608.6,1026.1 L610.3,1025.1 L612.0,1024.1 L613.7,1023.1 L615.4,1022.0 L617.0,1021.0 L618.7,1020.0 L620.4,1018.9 L622.1,1017.9 L623.8,1016.8 L625.4,1015.8 L627.1,1014.7 L628.8,1013.7 L630.5,1012.6 L632.1,1011.5 L633.8,1010.4 L635.4,1009.4 L637.1,1008.3 L638.7,1007.2 L640.4,1006.1 L642.0,1005.0 L643.7,1003.9 L645.3,1002.7 L647.0,1001.6 L648.6,1000.5 L650.2,999.4 L651.9,998.2 L653.5,997.1 L655.1,996.0 L656.7,994.8 L658.4,993.7 L660.0,992.5 L661.6,991.4 L663.2,990.2 L664.8,989.0 L666.4,987.9 L668.0,986.7 L669.6,985.5 L671.2,984.3 L672.8,983.1 L674.4,981.9 L676.0,980.8 L677.6,979.6 L679.2,978.4 L680.8,977.1 L682.4,975.9 L684.0,974.7 L685.6,973.5 L687.1,972.3 L688.7,971.1 L690.3,969.8 L691.9,968.6 L693.4,967.4 L695.0,966.1 L696.6,964.9 L698.1,963.6 L699.7,962.4 L701.3,961.1 L702.8,959.9 L704.4,958.6 L705.9,957.4 L707.5,956.1 L709.0,954.8 L710.6,953.6 L712.1,952.3 L713.7,951.0 L715.2,949.7 L716.8,948.5 L718.3,947.2 L719.8,945.9 L721.4,944.6 L722.9,943.3 L724.4,942.0 L726.0,940.7 L727.5,939.4 L729.0,938.1 L730.5,936.8 L732.1,935.5 L733.6,934.2 L735.1,932.9 L736.6,931.5 L738.2,930.2 L739.7,928.9 L741.2,927.6 L742.7,926.3 L744.2,924.9 L745.7,923.6 L747.2,922.3 L748.7,920.9 L750.2,919.6 L751.7,918.3 L753.2,916.9 L754.7,915.6 L756.2,914.2 L757.7,912.9 L759.2,911.6 L760.7,910.2 L762.2,908.9 L763.7,907.5 L765.2,906.2 L766.7,904.8 L768.2,903.5 L769.7,902.1 L771.2,900.7 L772.7,899.4 L774.1,898.0 L775.6,896.7 L777.1,895.3 L778.6,893.9 L780.1,892.6 L781.6,891.2 L783.0,889.8 L784.5,888.5 L786.0,887.1 L787.5,885.7 L788.9,884.3 L790.4,883.0 L791.9,881.6 L793.4,880.2 L794.8,878.8 L796.3,877.5 L797.8,876.1 L799.2,874.7 L800.7,873.3 L802.2,872.0 L803.6,870.6 L805.1,869.2 L806.6,867.8 L808.0,866.4 L809.5,865.1 L810.9,863.7 L812.4,862.3 L813.9,860.9 L815.3,859.5 L816.8,858.1 L818.2,856.8 L819.7,855.4 L821.2,854.0 L822.6,852.6 L824.1,851.2 L825.5,849.9 L827.0,848.5 L828.4,847.1 L829.9,845.7 L831.3,844.3 L832.8,842.9 L834.2,841.6 L835.7,840.2 L837.1,838.8 L838.6,837.4 L840.0,836.0 L841.5,834.6 L842.9,833.2 L844.4,831.9 L845.8,830.5 L847.3,829.1 L848.7,827.7 L850.2,826.3 L851.6,824.9 L853.0,823.5 L854.5,822.1 L855.9,820.8 L857.4,819.4 L858.8,818.0 L860.2,816.6 L861.7,815.2 L863.1,813.8 L864.5,812.4 L866.0,811.0 L867.4,809.6 L868.8,808.2 L870.3,806.9 L871.7,805.5 L873.1,804.1 L874.6,802.7 L876.0,801.3 L877.4,799.9 L878.9,798.5 L880.3,797.1 L881.7,795.7 L883.1,794.3 L884.5,792.9 L886.0,791.5 L887.4,790.1 L888.8,788.7 L890.2,787.3 L891.7,785.9 L893.1,784.5 L894.5,783.1 L895.9,781.7 L897.3,780.3 L898.7,778.9 L900.1,777.5 L901.6,776.1 L903.0,774.6 L904.4,773.2 L905.8,771.8 L907.2,770.4 L908.6,769.0 L910.0,767.6 L911.4,766.2 L912.8,764.8 L914.2,763.4 L915.6,761.9 L917.0,760.5 L918.4,759.1 L919.8,757.7 L921.2,756.3 L922.6,754.8 L924.0,753.4 L925.4,752.0 L926.8,750.6 L928.2,749.2 L929.6,747.7 L931.0,746.3 L932.3,744.9 L933.7,743.4 L935.1,742.0 L936.5,740.6 L937.9,739.2 L939.3,737.7 L940.6,736.3 L942.0,734.9 L943.4,733.4 L944.8,732.0 L946.1,730.5 L947.5,729.1 L948.9,727.7 L950.3,726.2 L951.6,724.8 L953.0,723.3 L954.4,721.9 L955.7,720.4 L957.1,719.0 L958.5,717.5 L959.8,716.1 L961.2,714.6 L962.6,713.2 L963.9,711.7 L965.3,710.3 L966.6,708.8 L968.0,707.3 L969.3,705.9 L970.7,704.4 L972.0,703.0 L973.4,701.5 L974.7,700.0 L976.1,698.6 L977.4,697.1 L978.8,695.6 L980.1,694.1 L981.4,692.7 L982.8,691.2 L984.1,689.7 L985.5,688.2 L986.8,686.8 L988.1,685.3 L989.4,683.8 L990.8,682.3 L992.1,680.8 L993.4,679.3 L994.7,677.8 L996.1,676.3 L997.4,674.8 L998.7,673.3 L1000.0,671.9 L1001.3,670.4 L1002.7,668.9 L1004.0,667.4 L1005.3,665.9 L1006.6,664.4 L1007.9,662.9 L1009.2,661.4 L1010.5,659.8 L1011.9,658.3 L1013.2,656.8 L1014.5,655.3 L1015.8,653.8 L1017.1,652.3 L1018.4,650.8 L1019.7,649.3 L1021.0,647.8 L1022.3,646.3 L1023.7,644.8 L1025.0,643.3 L1026.3,641.8 L1027.6,640.3 L1028.9,638.8 L1030.2,637.3 L1031.5,635.7 L1032.8,634.2 L1034.1,632.7 L1035.4,631.2 L1036.8,629.7 L1038.1,628.2 L1039.4,626.7 L1040.7,625.2 L1042.0,623.7 L1043.3,622.2 L1044.6,620.7 L1046.0,619.2 L1047.3,617.7 L1048.6,616.2 L1049.9,614.7 L1051.2,613.2 L1052.6,611.7 L1053.9,610.2 L1055.2,608.7 L1056.6,607.3 L1057.9,605.8 L1059.2,604.3 L1060.5,602.8 L1061.9,601.3 L1063.2,599.8 L1064.5,598.3 L1065.9,596.8 L1067.2,595.4 L1068.6,593.9 L1069.9,592.4 L1071.2,590.9 L1072.6,589.4 L1073.9,588.0 L1075.3,586.5 L1076.6,585.0 L1078.0,583.5 L1079.3,582.1 L1080.7,580.6 L1082.0,579.1 L1083.4,577.7 L1084.7,576.2 L1086.1,574.7 L1087.4,573.3 L1088.8,571.8 L1090.1,570.3 L1091.5,568.9 L1092.8,567.4 L1094.2,565.9 L1095.6,564.5 L1096.9,563.0 L1098.3,561.6 L1099.7,560.1 L1101.0,558.7 L1102.4,557.2 L1103.8,555.7 L1105.1,554.3 L1106.5,552.8 L1107.9,551.4 L1109.2,549.9 L1110.6,548.5 L1112.0,547.0 L1113.4,545.6 L1114.7,544.1 L1116.1,542.7 L1117.5,541.2 L1118.9,539.8 L1120.3,538.4 L1121.6,536.9 L1123.0,535.5 L1124.4,534.0 L1125.8,532.6 L1127.2,531.1 L1128.6,529.7 L1129.9,528.3 L1131.3,526.8 L1132.7,525.4 L1134.1,524.0 L1135.5,522.5 L1136.9,521.1 L1138.3,519.7 L1139.7,518.2 L1141.1,516.8 L1142.5,515.4 L1143.9,513.9 L1145.3,512.5 L1146.7,511.1 L1148.1,509.7 L1149.5,508.2 L1150.9,506.8 L1152.3,505.4 L1153.7,504.0 L1155.1,502.5 L1156.5,501.1 L1157.9,499.7 L1159.3,498.3 L1160.7,496.8 L1162.1,495.4 L1163.5,494.0 L1164.9,492.6 L1166.3,491.2 L1167.7,489.7 L1169.1,488.3 L1170.6,486.9 L1172.0,485.5 L1173.4,484.1 L1174.8,482.7 L1176.2,481.3 L1177.6,479.8 L1179.0,478.4 L1180.5,477.0 L1181.9,475.6 L1183.3,474.2 L1184.7,472.8 L1186.1,471.4 L1187.6,470.0 L1189.0,468.6 L1190.4,467.2 L1191.8,465.8 L1193.3,464.4 L1194.7,462.9 L1196.1,461.5 L1197.5,460.1 L1199.0,458.7 L1200.4,457.3 L1201.8,455.9 L1203.2,454.5 L1204.7,453.1 L1206.1,451.7 L1207.5,450.3 L1209.0,448.9 L1210.4,447.5 L1211.8,446.1 L1213.3,444.7 L1214.7,443.3 L1216.1,441.9 L1217.6,440.5 L1219.0,439.1 L1220.5,437.7 L1221.9,436.4 L1223.3,435.0 L1224.8,433.6 L1226.2,432.2 L1227.7,430.8 L1229.1,429.4 L1230.5,428.0 L1232.0,426.6 L1233.4,425.2 L1234.9,423.8 L1236.3,422.4 L1237.8,421.0 L1239.2,419.7 L1240.7,418.3 L1242.1,416.9 L1243.6,415.5 L1245.0,414.1 L1246.5,412.7 L1247.9,411.4 L1249.4,410.0 L1250.8,408.6 L1252.3,407.2 L1253.7,405.9 L1255.2,404.5 L1256.7,403.1 L1258.1,401.8 L1259.6,400.4 L1261.1,399.0 L1262.5,397.7 L1264.0,396.3 L1265.5,394.9 L1266.9,393.6 L1268.4,392.2 L1269.9,390.9 L1271.4,389.5 L1272.9,388.2 L1274.3,386.8 L1275.8,385.5 L1277.3,384.2 L1278.8,382.8 L1280.3,381.5 L1281.8,380.1 L1283.3,378.8 L1284.8,377.5 L1286.3,376.2 L1287.8,374.8 L1289.3,373.5 L1290.8,372.2 L1292.3,370.9 L1293.8,369.6 L1295.3,368.3 L1296.8,367.0 L1298.3,365.7 L1299.8,364.4 L1301.4,363.1 L1302.9,361.8 L1304.4,360.5 L1305.9,359.2 L1307.5,358.0 L1309.0,356.7 L1310.5,355.4 L1312.1,354.1 L1313.6,352.9 L1315.2,351.6 L1316.7,350.4 L1318.3,349.1 L1319.8,347.9 L1321.4,346.6 L1322.9,345.4 L1324.5,344.2 L1326.1,342.9 L1327.6,341.7 L1329.2,340.5 L1330.8,339.3 L1332.4,338.1 L1334.0,336.9 L1335.5,335.6 L1337.1,334.5 L1338.7,333.3 L1340.3,332.1 L1341.9,330.9 L1343.5,329.7 L1345.1,328.5 L1346.7,327.4 L1348.3,326.2 L1350.0,325.0 L1351.6,323.9 L1353.2,322.7 L1354.8,321.6 L1356.5,320.5 L1358.1,319.3 L1359.7,318.2 L1361.4,317.1 L1363.0,316.0 L1364.7,314.9 L1366.3,313.8 L1368.0,312.7 L1369.7,311.6 L1371.3,310.5 L1373.0,309.4 L1374.7,308.3 L1376.3,307.2 L1378.0,306.1 L1379.7,305.1 L1381.4,304.0 L1383.0,302.9 L1384.7,301.9 L1386.4,300.8 L1388.1,299.8 L1389.8,298.7 L1391.5,297.7 L1393.2,296.7 L1394.9,295.6 L1396.6,294.6 L1398.3,293.6 L1400.1,292.6 L1401.8,291.6 L1403.5,290.5 L1405.2,289.5 L1406.9,288.5 L1408.7,287.5 L1410.4,286.5 L1412.1,285.5 L1413.9,284.5 L1415.6,283.6 L1417.4,282.6 L1419.1,281.6 L1420.8,280.6 L1422.6,279.6 L1424.3,278.7 L1426.1,277.7 L1427.8,276.7 L1429.6,275.8 L1431.4,274.8 L1433.1,273.9 L1434.9,272.9 L1436.6,272.0 L1438.4,271.0 L1440.2,270.1 L1441.9,269.1 L1443.7,268.2 L1445.5,267.3 L1447.3,266.3 L1449.1,265.4 L1450.8,264.5 L1452.6,263.6 L1454.4,262.6 L1456.2,261.7 L1458.0,260.8 L1459.8,259.9 L1461.6,259.0 L1463.4,258.1 L1465.2,257.2 L1467.0,256.3 L1468.8,255.4 L1470.6,254.5 L1472.4,253.7 L1474.2,252.8 L1476.0,251.9 L1477.8,251.0 L1479.6,250.2 L1481.4,249.3 L1483.2,248.4 L1485.1,247.6 L1486.9,246.7 L1488.7,245.9 L1490.5,245.0 L1492.4,244.2 L1494.2,243.3 L1496.0,242.5 L1497.8,241.7 L1499.7,240.8 L1501.5,240.0 L1503.3,239.2 L1505.2,238.4 L1507.0,237.6 L1508.9,236.8 L1510.7,236.0 L1512.6,235.2 L1514.4,234.4 L1516.2,233.6 L1518.1,232.8 L1520.0,232.0 L1521.8,231.2 L1523.7,230.5 L1525.5,229.7 L1527.4,228.9 L1529.2,228.2 L1531.1,227.4 L1533.0,226.7 L1534.8,225.9 L1536.7,225.2 L1538.6,224.4 L1540.4,223.7 L1542.3,223.0 L1544.2,222.2 L1546.1,221.5 L1547.9,220.8 L1549.8,220.1 L1551.7,219.4 L1553.6,218.7 L1555.5,218.0 L1557.3,217.3 L1559.2,216.6 L1561.1,215.9 L1563.0,215.2 L1564.9,214.5 L1566.8,213.9 L1568.7,213.2 L1570.6,212.5 L1572.5,211.9 L1574.4,211.2 L1576.3,210.6 L1578.2,209.9 L1580.1,209.3 L1582.0,208.7 L1583.9,208.1 L1585.8,207.4 L1587.7,206.8 L1589.6,206.2 L1591.5,205.6 L1593.4,205.0 L1595.3,204.4 L1597.2,203.8 L1599.1,203.2 L1601.1,202.6 L1603.0,202.1 L1604.9,201.5 L1606.8,200.9 L1608.7,200.4 L1610.7,199.8 L1612.6,199.3 L1614.5,198.7 L1616.4,198.2 L1618.4,197.6 L1620.3,197.1 L1622.2,196.6 L1624.1,196.1 L1626.1,195.6 L1628.0,195.1 L1629.9,194.6 L1631.9,194.1 L1633.8,193.6 L1635.8,193.1 L1637.7,192.6 L1639.6,192.2 L1641.6,191.7 L1643.5,191.2 L1645.5,190.8 L1647.4,190.3 L1649.3,189.9 L1651.3,189.4 L1653.2,189.0 L1655.2,188.6 L1657.1,188.2 L1659.1,187.8 L1661.0,187.3 L1663.0,186.9 L1664.9,186.5 L1666.9,186.2 L1668.9,185.8 L1670.8,185.4 L1672.8,185.0 L1674.7,184.7 L1676.7,184.3 L1678.6,183.9 L1680.6,183.6 L1682.6,183.2 L1684.5,182.9 L1686.5,182.6 L1688.4,182.2 L1690.4,181.9 L1692.4,181.6 L1694.3,181.3 L1696.3,181.0 L1698.3,180.7 L1700.2,180.4 L1702.2,180.1 L1704.2,179.8 L1706.2,179.5 L1708.1,179.3 L1710.1,179.0 L1712.1,178.7 L1714.1,178.4 L1716.0,178.2 L1718.0,177.9 L1720.0,177.7 L1722.0,177.4 L1723.9,177.2 L1725.9,177.0 L1727.9,176.7 L1729.9,176.5 L1731.9,176.3 L1733.8,176.1 L1735.8,175.8 L1737.8,175.6 L1739.8,175.4 L1741.8,175.2 L1743.8,175.0 L1745.7,174.8 L1747.7,174.6 L1749.7,174.5 L1751.7,174.3 L1753.7,174.1 L1755.7,173.9 L1757.7,173.7 L1759.7,173.6 L1761.6,173.4 L1763.6,173.2 L1765.6,173.1 L1767.6,172.9 L1769.6,172.8 L1771.6,172.6 L1773.6,172.5 L1775.6,172.3 L1777.6,172.2 L1779.6,172.1 L1781.6,171.9 L1783.6,171.8 L1785.6,171.7 L1787.6,171.5 L1789.6,171.4 L1791.6,171.3 L1793.6,171.2 L1795.6,171.0 L1797.6,170.9 L1799.6,170.8 L1801.6,170.7 L1803.6,170.6 L1805.6,170.5 L1807.6,170.4 L1809.6,170.3 L1811.6,170.2 L1813.6,170.1 L1815.6,170.0 L1817.6,169.9 L1819.6,169.8 L1821.6,169.7 L1823.6,169.7 L1825.6,169.6 L1827.6,169.5 L1829.6,169.4 L1831.6,169.3 L1833.6,169.2 L1835.6,169.2 L1837.6,169.1 L1839.6,169.0 L1841.6,168.9 L1843.6,168.9 L1845.6,168.8 L1847.6,168.7 L1849.6,168.7 L1851.6,168.6 L1853.6,168.5 L1855.7,168.5 L1857.7,168.4 L1859.7,168.3 L1861.7,168.3 L1863.7,168.2 L1865.7,168.2 L1867.7,168.1 L1869.7,168.0 L1871.7,168.0 L1873.7,167.9 L1875.7,167.9 L1877.7,167.8 L1879.7,167.7 L1881.8,167.7 L1883.8,167.6 L1885.8,167.6 L1887.8,167.5 L1889.8,167.5 L1891.8,167.4 L1893.8,167.4 L1895.8,167.3 L1897.8,167.2 L1899.8,167.2 L1901.8,167.1 L1903.8,167.1 L1905.9,167.0 L1907.9,167.0 L1909.9,166.9 L1911.9,166.8 L1913.9,166.8 L1915.9,166.7 L1917.9,166.7 L1919.9,166.6 L1921.9,166.5 L1923.9,166.5 L1925.9,166.4 L1927.9,166.3 L1929.9,166.3 L1932.0,166.2 L1934.0,166.1 L1936.0,166.1 L1938.0,166.0 L1940.0,165.9 L1942.0,165.8 L1944.0,165.8 L1946.0,165.7 L1948.0,165.6 L1950.0,165.5 L1952.0,165.5 L1954.0,165.4 L1956.0,165.3 L1958.0,165.2 L1960.0,165.1 L1962.0,165.0 L1964.0,164.9 L1966.0,164.9 L1968.0,164.8 L1970.0,164.7 L1972.0,164.6 L1974.0,164.5 L1976.0,164.4 L1978.0,164.3 L1980.0,164.1 L1982.0,164.0 L1984.0,163.9 L1986.0,163.8 L1988.0,163.7 L1990.0,163.6 L1992.0,163.5 L1994.0,163.3 L1996.0,163.2 L1998.0,163.1 L2000.0,162.9 L2002.0,162.8 L2004.0,162.7 L2006.0,162.5 L2008.0,162.4 L2010.0,162.2 L2012.0,162.1 L2014.0,161.9 L2016.0,161.8 L2018.0,161.6 L2020.0,161.4 L2022.0,161.3 L2024.0,161.1 L2025.9,160.9 L2027.9,160.7 L2029.9,160.6 L2031.9,160.4 L2033.9,160.2 L2035.9,160.0 L2037.9,159.8 L2039.9,159.6 L2041.8,159.4 L2043.8,159.2 L2045.8,159.0 L2047.8,158.8 L2049.8,158.5 L2051.8,158.3 L2053.7,158.1 L2055.7,157.9 L2057.7,157.6 L2059.7,157.4 L2061.7,157.2 L2063.6,156.9 L2065.6,156.7 L2067.6,156.4 L2069.6,156.2 L2071.6,155.9 L2073.5,155.7 L2075.5,155.4 L2077.5,155.1 L2079.5,154.9 L2081.4,154.6 L2083.4,154.3 L2085.4,154.0 L2087.4,153.7 L2089.3,153.5 L2091.3,153.2 L2093.3,152.9 L2095.2,152.6 L2097.2,152.3 L2099.2,152.0 L2101.2,151.7 L2103.1,151.4 L2105.1,151.0 L2107.1,150.7 L2109.0,150.4 L2111.0,150.1 L2113.0,149.8 L2114.9,149.4 L2116.9,149.1 L2118.9,148.8 L2120.8,148.4 L2122.8,148.1 L2124.7,147.8 L2126.7,147.4 L2128.7,147.1 L2130.6,146.7 L2132.6,146.4 L2134.6,146.0 L2136.5,145.6 L2138.5,145.3 L2140.4,144.9 L2142.4,144.5 L2144.4,144.2 L2146.3,143.8 L2148.3,143.4 L2150.2,143.0 L2152.2,142.6 L2154.1,142.3 L2156.1,141.9 L2158.1,141.5 L2160.0,141.1 L2162.0,140.7 L2163.9,140.3 L2165.9,139.9 L2167.8,139.5 L2169.8,139.1 L2171.7,138.7 L2173.7,138.3 L2175.6,137.8 L2177.6,137.4 L2179.5,137.0 L2181.5,136.6 L2183.4,136.1 L2185.4,135.7 L2187.3,135.3 L2189.3,134.9 L2191.2,134.4 L2193.2,134.0 L2195.1,133.5 L2197.1,133.1 L2199.0,132.7 L2201.0,132.2 L2202.9,131.8 L2204.9,131.3 L2206.8,130.9 L2208.8,130.4 L2210.7,129.9 L2212.7,129.5 L2214.6,129.0 L2216.5,128.5 L2218.5,128.1 L2220.4,127.6 L2222.4,127.1 L2224.3,126.7 L2226.3,126.2 L2228.2,125.7 L2230.1,125.2 L2232.1,124.7 L2234.0,124.3 L2236.0,123.8 L2237.9,123.3 L2239.8,122.8 L2241.8,122.3 L2243.7,121.8 L2245.7,121.3 L2247.6,120.8 L2249.5,120.3 L2251.5,119.8 L2253.4,119.3 L2255.3,118.8 L2257.3,118.3 L2259.2,117.8 L2261.2,117.2 L2263.1,116.7 L2265.0,116.2 L2267.0,115.7 L2268.9,115.2 L2270.8,114.6 L2272.8,114.1 L2274.7,113.6 L2276.6,113.1 L2278.6,112.5 L2280.5,112.0 L2282.4,111.5 L2284.4,110.9 L2286.3,110.4 L2288.2,109.9 L2290.2,109.3 L2292.1,108.8 L2294.0,108.2 L2296.0,107.7 L2297.9,107.2 L2299.8,106.6 L2301.8,106.1 L2303.7,105.5 L2305.6,105.0 L2307.6,104.4 L2309.5,103.8 L2311.4,103.3 L2313.3,102.7 L2315.3,102.2 L2317.2,101.6 L2319.1,101.0 L2321.1,100.5 L2323.0,99.9 L2324.9,99.3 L2326.8,98.8 L2328.8,98.2 L2330.7,97.6 L2332.6,97.1 L2334.5,96.5 L2336.5,95.9 L2338.4,95.3 L2340.3,94.8 L2342.3,94.2 L2344.2,93.6 L2346.1,93.0 L2348.0,92.4 L2350.0,91.9" transform="translate(-1.85,-1.85)"/>
<use href="#c4" transform="translate(3.70,0.00)"/>
<use href="#c4" transform="translate(0.00,3.70)"/>
<use href="#c4" transform="translate(3.70,3.70)"/>
</g>
<g stroke="#4DBEEE" stroke-width="7.0">
<path id="c5" d="M297.0,1137.0 L299.0,1136.7 L301.0,1136.3 L302.9,1136.0 L304.9,1135.6 L306.9,1135.2 L308.9,1134.9 L310.8,1134.5 L312.8,1134.1 L314.8,1133.8 L316.8,1133.4 L318.7,1133.0 L320.7,1132.6 L322.7,1132.2 L324.7,1131.8 L326.6,1131.4 L328.6,1131.0 L330.6,1130.5 L332.5,1130.1 L334.5,1129.7 L336.5,1129.3 L338.4,1128.8 L340.4,1128.4 L342.3,1127.9 L344.3,1127.5 L346.3,1127.0 L348.2,1126.5 L350.2,1126.1 L352.1,1125.6 L354.1,1125.1 L356.0,1124.6 L358.0,1124.1 L359.9,1123.7 L361.9,1123.2 L363.8,1122.6 L365.8,1122.1 L367.7,1121.6 L369.7,1121.1 L371.6,1120.6 L373.6,1120.0 L375.5,1119.5 L377.4,1119.0 L379.4,1118.4 L381.3,1117.9 L383.2,1117.3 L385.2,1116.8 L387.1,1116.2 L389.0,1115.6 L391.0,1115.0 L392.9,1114.5 L394.8,1113.9 L396.7,1113.3 L398.6,1112.7 L400.6,1112.1 L402.5,1111.5 L404.4,1110.9 L406.3,1110.3 L408.2,1109.6 L410.1,1109.0 L412.0,1108.4 L413.9,1107.7 L415.8,1107.1 L417.7,1106.4 L419.6,1105.8 L421.5,1105.1 L423.4,1104.5 L425.3,1103.8 L427.2,1103.1 L429.1,1102.5 L431.0,1101.8 L432.9,1101.1 L434.8,1100.4 L436.6,1099.7 L438.5,1099.0 L440.4,1098.3 L442.3,1097.6 L444.1,1096.8 L446.0,1096.1 L447.9,1095.4 L449.7,1094.6 L451.6,1093.9 L453.5,1093.2 L455.3,1092.4 L457.2,1091.6 L459.0,1090.9 L460.9,1090.1 L462.7,1089.3 L464.5,1088.6 L466.4,1087.8 L468.2,1087.0 L470.1,1086.2 L471.9,1085.4 L473.7,1084.6 L475.5,1083.8 L477.4,1083.0 L479.2,1082.1 L481.0,1081.3 L482.8,1080.5 L484.6,1079.7 L486.4,1078.8 L488.3,1078.0 L490.1,1077.1 L491.9,1076.3 L493.7,1075.4 L495.4,1074.5 L497.2,1073.7 L499.0,1072.8 L500.8,1071.9 L502.6,1071.0 L504.4,1070.1 L506.1,1069.2 L507.9,1068.3 L509.7,1067.4 L511.5,1066.5 L513.2,1065.6 L515.0,1064.6 L516.7,1063.7 L518.5,1062.8 L520.2,1061.8 L522.0,1060.9 L523.7,1059.9 L525.5,1059.0 L527.2,1058.0 L529.0,1057.1 L530.7,1056.1 L532.4,1055.1 L534.2,1054.1 L535.9,1053.1 L537.6,1052.2 L539.3,1051.2 L541.0,1050.2 L542.8,1049.2 L544.5,1048.2 L546.2,1047.2 L547.9,1046.1 L549.6,1045.1 L551.3,1044.1 L553.0,1043.1 L554.7,1042.0 L556.4,1041.0 L558.1,1040.0 L559.8,1038.9 L561.4,1037.9 L563.1,1036.8 L564.8,1035.8 L566.5,1034.7 L568.2,1033.6 L569.8,1032.6 L571.5,1031.5 L573.2,1030.4 L574.9,1029.3 L576.5,1028.2 L578.2,1027.1 L579.8,1026.1 L581.5,1025.0 L583.1,1023.9 L584.8,1022.8 L586.5,1021.6 L588.1,1020.5 L589.7,1019.4 L591.4,1018.3 L593.0,1017.2 L594.7,1016.0 L596.3,1014.9 L597.9,1013.8 L599.6,1012.7 L601.2,1011.5 L602.8,1010.4 L604.5,1009.2 L606.1,1008.1 L607.7,1006.9 L609.3,1005.8 L610.9,1004.6 L612.6,1003.4 L614.2,1002.3 L615.8,1001.1 L617.4,999.9 L619.0,998.8 L620.6,997.6 L622.2,996.4 L623.8,995.2 L625.4,994.0 L627.0,992.8 L628.6,991.6 L630.2,990.4 L631.8,989.2 L633.4,988.0 L635.0,986.8 L636.6,985.6 L638.1,984.4 L639.7,983.2 L641.3,982.0 L642.9,980.8 L644.5,979.6 L646.1,978.3 L647.6,977.1 L649.2,975.9 L650.8,974.7 L652.3,973.4 L653.9,972.2 L655.5,970.9 L657.0,969.7 L658.6,968.5 L660.2,967.2 L661.7,966.0 L663.3,964.7 L664.8,963.5 L666.4,962.2 L668.0,961.0 L669.5,959.7 L671.1,958.5 L672.6,957.2 L674.2,955.9 L675.7,954.7 L677.3,953.4 L678.8,952.1 L680.3,950.9 L681.9,949.6 L683.4,948.3 L685.0,947.0 L686.5,945.8 L688.0,944.5 L689.6,943.2 L691.1,941.9 L692.7,940.6 L694.2,939.4 L695.7,938.1 L697.2,936.8 L698.8,935.5 L700.3,934.2 L701.8,932.9 L703.4,931.6 L704.9,930.3 L706.4,929.0 L707.9,927.7 L709.4,926.4 L711.0,925.1 L712.5,923.8 L714.0,922.5 L715.5,921.2 L717.0,919.9 L718.6,918.6 L720.1,917.3 L721.6,916.0 L723.1,914.7 L724.6,913.4 L726.1,912.1 L727.6,910.8 L729.1,909.5 L730.6,908.1 L732.2,906.8 L733.7,905.5 L735.2,904.2 L736.7,902.9 L738.2,901.6 L739.7,900.2 L741.2,898.9 L742.7,897.6 L744.2,896.3 L745.7,895.0 L747.2,893.6 L748.7,892.3 L750.2,891.0 L751.7,889.7 L753.2,888.3 L754.7,887.0 L756.2,885.7 L757.7,884.3 L759.1,883.0 L760.6,881.7 L762.1,880.3 L763.6,879.0 L765.1,877.7 L766.6,876.3 L768.1,875.0 L769.6,873.7 L771.1,872.3 L772.6,871.0 L774.0,869.7 L775.5,868.3 L777.0,867.0 L778.5,865.6 L780.0,864.3 L781.5,863.0 L783.0,861.6 L784.4,860.3 L785.9,858.9 L787.4,857.6 L788.9,856.2 L790.4,854.9 L791.8,853.6 L793.3,852.2 L794.8,850.9 L796.3,849.5 L797.8,848.2 L799.2,846.8 L800.7,845.5 L802.2,844.1 L803.7,842.8 L805.2,841.4 L806.6,840.1 L808.1,838.7 L809.6,837.4 L811.1,836.0 L812.5,834.7 L814.0,833.3 L815.5,832.0 L817.0,830.6 L818.4,829.3 L819.9,827.9 L821.4,826.6 L822.8,825.2 L824.3,823.8 L825.8,822.5 L827.3,821.1 L828.7,819.8 L830.2,818.4 L831.7,817.1 L833.1,815.7 L834.6,814.4 L836.1,813.0 L837.6,811.6 L839.0,810.3 L840.5,808.9 L842.0,807.6 L843.4,806.2 L844.9,804.9 L846.4,803.5 L847.9,802.2 L849.3,800.8 L850.8,799.4 L852.3,798.1 L853.7,796.7 L855.2,795.4 L856.7,794.0 L858.1,792.6 L859.6,791.3 L861.1,789.9 L862.5,788.6 L864.0,787.2 L865.5,785.9 L867.0,784.5 L868.4,783.1 L869.9,781.8 L871.4,780.4 L872.8,779.1 L874.3,777.7 L875.8,776.4 L877.2,775.0 L878.7,773.7 L880.2,772.3 L881.7,770.9 L883.1,769.6 L884.6,768.2 L886.1,766.9 L887.5,765.5 L889.0,764.2 L890.5,762.8 L891.9,761.5 L893.4,760.1 L894.9,758.7 L896.4,757.4 L897.8,756.0 L899.3,754.7 L900.8,753.3 L902.3,752.0 L903.7,750.6 L905.2,749.3 L906.7,747.9 L908.1,746.6 L909.6,745.2 L911.1,743.9 L912.6,742.5 L914.0,741.2 L915.5,739.8 L917.0,738.5 L918.5,737.1 L919.9,735.8 L921.4,734.4 L922.9,733.1 L924.4,731.7 L925.9,730.4 L927.3,729.0 L928.8,727.7 L930.3,726.4 L931.8,725.0 L933.3,723.7 L934.7,722.3 L936.2,721.0 L937.7,719.6 L939.2,718.3 L940.7,717.0 L942.2,715.6 L943.6,714.3 L945.1,712.9 L946.6,711.6 L948.1,710.3 L949.6,708.9 L951.1,707.6 L952.6,706.3 L954.0,704.9 L955.5,703.6 L957.0,702.3 L958.5,700.9 L960.0,699.6 L961.5,698.3 L963.0,696.9 L964.5,695.6 L966.0,694.3 L967.5,693.0 L969.0,691.6 L970.5,690.3 L971.9,689.0 L973.4,687.7 L974.9,686.3 L976.4,685.0 L977.9,683.7 L979.4,682.4 L980.9,681.1 L982.4,679.7 L983.9,678.4 L985.4,677.1 L986.9,675.8 L988.5,674.5 L990.0,673.2 L991.5,671.9 L993.0,670.6 L994.5,669.2 L996.0,667.9 L997.5,666.6 L999.0,665.3 L1000.5,664.0 L1002.0,662.7 L1003.5,661.4 L1005.1,660.1 L1006.6,658.8 L1008.1,657.5 L1009.6,656.2 L1011.1,654.9 L1012.6,653.6 L1014.2,652.3 L1015.7,651.0 L1017.2,649.7 L1018.7,648.4 L1020.3,647.2 L1021.8,645.9 L1023.3,644.6 L1024.8,643.3 L1026.4,642.0 L1027.9,640.7 L1029.4,639.4 L1031.0,638.2 L1032.5,636.9 L1034.0,635.6 L1035.6,634.3 L1037.1,633.1 L1038.6,631.8 L1040.2,630.5 L1041.7,629.2 L1043.3,628.0 L1044.8,626.7 L1046.3,625.4 L1047.9,624.2 L1049.4,622.9 L1051.0,621.6 L1052.5,620.4 L1054.1,619.1 L1055.6,617.9 L1057.2,616.6 L1058.7,615.3 L1060.3,614.1 L1061.8,612.8 L1063.4,611.6 L1065.0,610.3 L1066.5,609.1 L1068.1,607.9 L1069.6,606.6 L1071.2,605.4 L1072.8,604.1 L1074.3,602.9 L1075.9,601.6 L1077.5,600.4 L1079.0,599.2 L1080.6,597.9 L1082.2,596.7 L1083.8,595.5 L1085.3,594.3 L1086.9,593.0 L1088.5,591.8 L1090.1,590.6 L1091.7,589.4 L1093.3,588.2 L1094.8,586.9 L1096.4,585.7 L1098.0,584.5 L1099.6,583.3 L1101.2,582.1 L1102.8,580.9 L1104.4,579.7 L1106.0,578.5 L1107.6,577.3 L1109.2,576.1 L1110.8,574.9 L1112.4,573.7 L1114.0,572.5 L1115.6,571.3 L1117.2,570.1 L1118.8,568.9 L1120.4,567.7 L1122.0,566.5 L1123.6,565.4 L1125.3,564.2 L1126.9,563.0 L1128.5,561.8 L1130.1,560.7 L1131.7,559.5 L1133.4,558.3 L1135.0,557.1 L1136.6,556.0 L1138.3,554.8 L1139.9,553.7 L1141.5,552.5 L1143.2,551.3 L1144.8,550.2 L1146.4,549.0 L1148.1,547.9 L1149.7,546.7 L1151.4,545.6 L1153.0,544.4 L1154.7,543.3 L1156.3,542.2 L1158.0,541.0 L1159.6,539.9 L1161.3,538.8 L1162.9,537.6 L1164.6,536.5 L1166.2,535.4 L1167.9,534.3 L1169.6,533.1 L1171.2,532.0 L1172.9,530.9 L1174.6,529.8 L1176.3,528.7 L1177.9,527.6 L1179.6,526.5 L1181.3,525.4 L1183.0,524.3 L1184.7,523.2 L1186.3,522.1 L1188.0,521.0 L1189.7,520.0 L1191.4,518.9 L1193.1,517.8 L1194.8,516.7 L1196.5,515.7 L1198.2,514.6 L1199.9,513.6 L1201.6,512.5 L1203.3,511.5 L1205.0,510.4 L1206.7,509.4 L1208.5,508.3 L1210.2,507.3 L1211.9,506.3 L1213.6,505.2 L1215.3,504.2 L1217.1,503.2 L1218.8,502.2 L1220.5,501.2 L1222.3,500.2 L1224.0,499.2 L1225.7,498.2 L1227.5,497.2 L1229.2,496.2 L1231.0,495.2 L1232.7,494.3 L1234.5,493.3 L1236.2,492.3 L1238.0,491.4 L1239.7,490.4 L1241.5,489.5 L1243.2,488.5 L1245.0,487.6 L1246.8,486.6 L1248.5,485.7 L1250.3,484.8 L1252.1,483.9 L1253.9,482.9 L1255.7,482.0 L1257.4,481.1 L1259.2,480.2 L1261.0,479.4 L1262.8,478.5 L1264.6,477.6 L1266.4,476.7 L1268.2,475.9 L1270.0,475.0 L1271.8,474.1 L1273.6,473.3 L1275.4,472.4 L1277.2,471.6 L1279.0,470.8 L1280.9,470.0 L1282.7,469.1 L1284.5,468.3 L1286.3,467.5 L1288.2,466.7 L1290.0,465.9 L1291.8,465.2 L1293.7,464.4 L1295.5,463.6 L1297.4,462.9 L1299.2,462.1 L1301.1,461.3 L1302.9,460.6 L1304.8,459.9 L1306.6,459.1 L1308.5,458.4 L1310.3,457.7 L1312.2,457.0 L1314.1,456.3 L1316.0,455.6 L1317.8,454.9 L1319.7,454.2 L1321.6,453.6 L1323.5,452.9 L1325.4,452.2 L1327.2,451.6 L1329.1,451.0 L1331.0,450.3 L1332.9,449.7 L1334.8,449.1 L1336.7,448.5 L1338.6,447.8 L1340.5,447.2 L1342.4,446.7 L1344.3,446.1 L1346.3,445.5 L1348.2,444.9 L1350.1,444.3 L1352.0,443.8 L1353.9,443.2 L1355.8,442.7 L1357.8,442.2 L1359.7,441.6 L1361.6,441.1 L1363.6,440.6 L1365.5,440.1 L1367.4,439.6 L1369.4,439.1 L1371.3,438.6 L1373.2,438.1 L1375.2,437.6 L1377.1,437.2 L1379.0,436.7 L1381.0,436.2 L1382.9,435.8 L1384.9,435.4 L1386.8,434.9 L1388.8,434.5 L1390.7,434.1 L1392.7,433.7 L1394.6,433.3 L1396.6,432.9 L1398.6,432.5 L1400.5,432.1 L1402.5,431.7 L1404.4,431.3 L1406.4,431.0 L1408.4,430.6 L1410.3,430.3 L1412.3,429.9 L1414.2,429.6 L1416.2,429.3 L1418.2,428.9 L1420.1,428.6 L1422.1,428.3 L1424.1,428.0 L1426.0,427.7 L1428.0,427.4 L1430.0,427.2 L1432.0,426.9 L1433.9,426.6 L1435.9,426.4 L1437.9,426.1 L1439.9,425.9 L1441.8,425.6 L1443.8,425.4 L1445.8,425.2 L1447.8,424.9 L1449.7,424.7 L1451.7,424.5 L1453.7,424.3 L1455.7,424.1 L1457.7,423.9 L1459.6,423.7 L1461.6,423.6 L1463.6,423.4 L1465.6,423.2 L1467.6,423.1 L1469.5,422.9 L1471.5,422.7 L1473.5,422.6 L1475.5,422.5 L1477.5,422.3 L1479.5,422.2 L1481.5,422.1 L1483.4,422.0 L1485.4,421.9 L1487.4,421.8 L1489.4,421.7 L1491.4,421.6 L1493.4,421.5 L1495.4,421.4 L1497.4,421.3 L1499.4,421.2 L1501.3,421.2 L1503.3,421.1 L1505.3,421.0 L1507.3,421.0 L1509.3,420.9 L1511.3,420.9 L1513.3,420.8 L1515.3,420.8 L1517.3,420.8 L1519.3,420.7 L1521.3,420.7 L1523.3,420.7 L1525.3,420.7 L1527.3,420.7 L1529.3,420.7 L1531.3,420.7 L1533.3,420.7 L1535.3,420.7 L1537.3,420.7 L1539.3,420.7 L1541.3,420.7 L1543.3,420.7 L1545.3,420.8 L1547.3,420.8 L1549.3,420.8 L1551.3,420.9 L1553.3,420.9 L1555.3,421.0 L1557.3,421.0 L1559.3,421.1 L1561.3,421.1 L1563.3,421.2 L1565.3,421.2 L1567.3,421.3 L1569.3,421.4 L1571.3,421.4 L1573.3,421.5 L1575.3,421.6 L1577.3,421.7 L1579.3,421.7 L1581.3,421.8 L1583.3,421.9 L1585.3,422.0 L1587.3,422.1 L1589.3,422.2 L1591.3,422.3 L1593.3,422.4 L1595.3,422.5 L1597.3,422.6 L1599.4,422.7 L1601.4,422.8 L1603.4,423.0 L1605.4,423.1 L1607.4,423.2 L1609.4,423.3 L1611.4,423.4 L1613.4,423.6 L1615.4,423.7 L1617.4,423.8 L1619.4,424.0 L1621.4,424.1 L1623.4,424.2 L1625.4,424.4 L1627.4,424.5 L1629.4,424.6 L1631.5,424.8 L1633.5,424.9 L1635.5,425.1 L1637.5,425.2 L1639.5,425.4 L1641.5,425.5 L1643.5,425.7 L1645.5,425.8 L1647.5,426.0 L1649.5,426.1 L1651.5,426.3 L1653.5,426.4 L1655.5,426.6 L1657.5,426.7 L1659.6,426.9 L1661.6,427.1 L1663.6,427.2 L1665.6,427.4 L1667.6,427.5 L1669.6,427.7 L1671.6,427.9 L1673.6,428.0 L1675.6,428.2 L1677.6,428.4 L1679.6,428.5 L1681.6,428.7 L1683.6,428.9 L1685.6,429.0 L1687.6,429.2 L1689.6,429.3 L1691.6,429.5 L1693.6,429.7 L1695.7,429.8 L1697.7,430.0 L1699.7,430.2 L1701.7,430.3 L1703.7,430.5 L1705.7,430.7 L1707.7,430.8 L1709.7,431.0 L1711.7,431.2 L1713.7,431.3 L1715.7,431.5 L1717.7,431.7 L1719.7,431.8 L1721.7,432.0 L1723.7,432.1 L1725.7,432.3 L1727.7,432.5 L1729.7,432.6 L1731.7,432.8 L1733.7,432.9 L1735.7,433.1 L1737.7,433.2 L1739.7,433.4 L1741.7,433.5 L1743.7,433.7 L1745.7,433.9 L1747.7,434.0 L1749.7,434.2 L1751.7,434.3 L1753.7,434.5 L1755.7,434.6 L1757.7,434.8 L1759.7,434.9 L1761.7,435.1 L1763.7,435.2 L1765.7,435.4 L1767.6,435.5 L1769.6,435.7 L1771.6,435.8 L1773.6,436.0 L1775.6,436.1 L1777.6,436.2 L1779.6,436.4 L1781.6,436.5 L1783.6,436.7 L1785.6,436.8 L1787.6,437.0 L1789.6,437.1 L1791.6,437.3 L1793.6,437.4 L1795.6,437.5 L1797.6,437.7 L1799.6,437.8 L1801.6,438.0 L1803.5,438.1 L1805.5,438.3 L1807.5,438.4 L1809.5,438.5 L1811.5,438.7 L1813.5,438.8 L1815.5,439.0 L1817.5,439.1 L1819.5,439.2 L1821.5,439.4 L1823.5,439.5 L1825.5,439.7 L1827.4,439.8 L1829.4,439.9 L1831.4,440.1 L1833.4,440.2 L1835.4,440.4 L1837.4,440.5 L1839.4,440.6 L1841.4,440.8 L1843.4,440.9 L1845.4,441.0 L1847.3,441.2 L1849.3,441.3 L1851.3,441.5 L1853.3,441.6 L1855.3,441.7 L1857.3,441.9 L1859.3,442.0 L1861.3,442.1 L1863.3,442.3 L1865.3,442.4 L1867.2,442.6 L1869.2,442.7 L1871.2,442.8 L1873.2,443.0 L1875.2,443.1 L1877.2,443.2 L1879.2,443.4 L1881.2,443.5 L1883.2,443.7 L1885.1,443.8 L1887.1,443.9 L1889.1,444.1 L1891.1,444.2 L1893.1,444.4 L1895.1,444.5 L1897.1,444.6 L1899.1,444.8 L1901.0,444.9 L1903.0,445.0 L1905.0,445.2 L1907.0,445.3 L1909.0,445.5 L1911.0,445.6 L1913.0,445.7 L1915.0,445.9 L1916.9,446.0 L1918.9,446.2 L1920.9,446.3 L1922.9,446.4 L1924.9,446.6 L1926.9,446.7 L1928.9,446.9 L1930.9,447.0 L1932.8,447.2 L1934.8,447.3 L1936.8,447.4 L1938.8,447.6 L1940.8,447.7 L1942.8,447.9 L1944.8,448.0 L1946.8,448.2 L1948.7,448.3 L1950.7,448.4 L1952.7,448.6 L1954.7,448.7 L1956.7,448.9 L1958.7,449.0 L1960.7,449.2 L1962.7,449.3 L1964.6,449.5 L1966.6,449.6 L1968.6,449.8 L1970.6,449.9 L1972.6,450.1 L1974.6,450.2 L1976.6,450.4 L1978.6,450.5 L1980.5,450.7 L1982.5,450.8 L1984.5,451.0 L1986.5,451.1 L1988.5,451.3 L1990.5,451.4 L1992.5,451.6 L1994.5,451.7 L1996.5,451.9 L1998.4,452.1 L2000.4,452.2 L2002.4,452.4 L2004.4,452.5 L2006.4,452.7 L2008.4,452.8 L2010.4,453.0 L2012.4,453.2 L2014.4,453.3 L2016.3,453.5 L2018.3,453.7 L2020.3,453.8 L2022.3,454.0 L2024.3,454.1 L2026.3,454.3 L2028.3,454.5 L2030.3,454.6 L2032.3,454.8 L2034.3,455.0 L2036.2,455.1 L2038.2,455.3 L2040.2,455.5 L2042.2,455.7 L2044.2,455.8 L2046.2,456.0 L2048.2,456.2 L2050.2,456.3 L2052.2,456.5 L2054.2,456.7 L2056.2,456.9 L2058.1,457.0 L2060.1,457.2 L2062.1,457.4 L2064.1,457.6 L2066.1,457.8 L2068.1,457.9 L2070.1,458.1 L2072.1,458.3 L2074.1,458.5 L2076.1,458.7 L2078.1,458.9 L2080.1,459.1 L2082.1,459.2 L2084.1,459.4 L2086.0,459.6 L2088.0,459.8 L2090.0,460.0 L2092.0,460.2 L2094.0,460.4 L2096.0,460.6 L2098.0,460.8 L2100.0,461.0 L2102.0,461.2 L2104.0,461.4 L2106.0,461.6 L2108.0,461.8 L2110.0,462.0 L2112.0,462.2 L2114.0,462.4 L2115.9,462.6 L2117.9,462.8 L2119.9,463.0 L2121.9,463.2 L2123.9,463.4 L2125.9,463.6 L2127.9,463.8 L2129.9,464.0 L2131.9,464.2 L2133.9,464.4 L2135.9,464.6 L2137.9,464.9 L2139.9,465.1 L2141.9,465.3 L2143.9,465.5 L2145.8,465.7 L2147.8,465.9 L2149.8,466.2 L2151.8,466.4 L2153.8,466.6 L2155.8,466.8 L2157.8,467.1 L2159.8,467.3 L2161.8,467.5 L2163.8,467.7 L2165.8,468.0 L2167.8,468.2 L2169.8,468.4 L2171.7,468.6 L2173.7,468.9 L2175.7,469.1 L2177.7,469.3 L2179.7,469.6 L2181.7,469.8 L2183.7,470.1 L2185.7,470.3 L2187.7,470.5 L2189.7,470.8 L2191.7,471.0 L2193.6,471.3 L2195.6,471.5 L2197.6,471.8 L2199.6,472.0 L2201.6,472.3 L2203.6,472.5 L2205.6,472.8 L2207.6,473.0 L2209.6,473.3 L2211.5,473.5 L2213.5,473.8 L2215.5,474.0 L2217.5,474.3 L2219.5,474.5 L2221.5,474.8 L2223.5,475.1 L2225.4,475.3 L2227.4,475.6 L2229.4,475.9 L2231.4,476.1 L2233.4,476.4 L2235.4,476.7 L2237.4,476.9 L2239.3,477.2 L2241.3,477.5 L2243.3,477.8 L2245.3,478.0 L2247.3,478.3 L2249.3,478.6 L2251.2,478.9 L2253.2,479.1 L2255.2,479.4 L2257.2,479.7 L2259.2,480.0 L2261.2,480.3 L2263.1,480.6 L2265.1,480.9 L2267.1,481.1 L2269.1,481.4 L2271.1,481.7 L2273.0,482.0 L2275.0,482.3 L2277.0,482.6 L2279.0,482.9 L2280.9,483.2 L2282.9,483.5 L2284.9,483.8 L2286.9,484.1 L2288.9,484.4 L2290.8,484.7 L2292.8,485.0 L2294.8,485.3 L2296.8,485.7 L2298.7,486.0 L2300.7,486.3 L2302.7,486.6 L2304.6,486.9 L2306.6,487.2 L2308.6,487.5 L2310.6,487.9 L2312.5,488.2 L2314.5,488.5 L2316.5,488.8 L2318.4,489.2 L2320.4,489.5 L2322.4,489.8 L2324.3,490.2 L2326.3,490.5 L2328.3,490.8 L2330.2,491.2 L2332.2,491.5 L2334.2,491.8 L2336.1,492.2 L2338.1,492.5 L2340.1,492.9 L2342.0,493.2 L2344.0,493.5 L2346.0,493.9 L2347.9,494.2 L2349.9,494.6" transform="translate(-1.85,-1.85)"/>
<use href="#c5" transform="translate(3.70,0.00)"/>
<use href="#c5" transform="translate(0.00,3.70)"/>
<use href="#c5" transform="translate(3.70,3.70)"/>
</g>
<g stroke="#A2142F" stroke-width="7.0">
<path id="c6" d="M340.3,1138.6 L342.2,1138.2 L344.2,1137.7 L346.1,1137.2 L348.0,1136.7 L349.9,1136.1 L351.8,1135.6 L353.8,1135.1 L355.7,1134.6 L357.6,1134.0 L359.5,1133.5 L361.4,1132.9 L363.3,1132.4 L365.2,1131.8 L367.1,1131.2 L369.0,1130.7 L370.9,1130.1 L372.8,1129.5 L374.7,1128.9 L376.6,1128.3 L378.5,1127.7 L380.4,1127.1 L382.3,1126.5 L384.2,1125.8 L386.1,1125.2 L388.0,1124.6 L389.9,1123.9 L391.8,1123.3 L393.6,1122.6 L395.5,1122.0 L397.4,1121.3 L399.3,1120.6 L401.2,1119.9 L403.0,1119.3 L404.9,1118.6 L406.8,1117.9 L408.6,1117.2 L410.5,1116.5 L412.4,1115.7 L414.2,1115.0 L416.1,1114.3 L417.9,1113.6 L419.8,1112.8 L421.7,1112.1 L423.5,1111.4 L425.4,1110.6 L427.2,1109.8 L429.0,1109.1 L430.9,1108.3 L432.7,1107.5 L434.6,1106.8 L436.4,1106.0 L438.2,1105.2 L440.1,1104.4 L441.9,1103.6 L443.7,1102.8 L445.6,1102.0 L447.4,1101.2 L449.2,1100.3 L451.0,1099.5 L452.9,1098.7 L454.7,1097.8 L456.5,1097.0 L458.3,1096.1 L460.1,1095.3 L461.9,1094.4 L463.7,1093.6 L465.5,1092.7 L467.3,1091.8 L469.1,1091.0 L470.9,1090.1 L472.7,1089.2 L474.5,1088.3 L476.3,1087.4 L478.1,1086.5 L479.9,1085.6 L481.7,1084.7 L483.4,1083.8 L485.2,1082.8 L487.0,1081.9 L488.8,1081.0 L490.5,1080.0 L492.3,1079.1 L494.1,1078.2 L495.8,1077.2 L497.6,1076.3 L499.4,1075.3 L501.1,1074.3 L502.9,1073.4 L504.6,1072.4 L506.4,1071.4 L508.1,1070.4 L509.9,1069.4 L511.6,1068.5 L513.4,1067.5 L515.1,1066.5 L516.8,1065.5 L518.6,1064.4 L520.3,1063.4 L522.0,1062.4 L523.7,1061.4 L525.5,1060.4 L527.2,1059.3 L528.9,1058.3 L530.6,1057.3 L532.3,1056.2 L534.0,1055.2 L535.7,1054.1 L537.4,1053.1 L539.1,1052.0 L540.8,1051.0 L542.5,1049.9 L544.2,1048.8 L545.9,1047.7 L547.6,1046.7 L549.3,1045.6 L551.0,1044.5 L552.6,1043.4 L554.3,1042.3 L556.0,1041.2 L557.7,1040.1 L559.3,1039.0 L561.0,1037.9 L562.7,1036.8 L564.3,1035.7 L566.0,1034.6 L567.6,1033.4 L569.3,1032.3 L570.9,1031.2 L572.6,1030.0 L574.2,1028.9 L575.8,1027.8 L577.5,1026.6 L579.1,1025.5 L580.8,1024.3 L582.4,1023.2 L584.0,1022.0 L585.6,1020.8 L587.3,1019.7 L588.9,1018.5 L590.5,1017.3 L592.1,1016.1 L593.7,1015.0 L595.3,1013.8 L596.9,1012.6 L598.5,1011.4 L600.1,1010.2 L601.7,1009.0 L603.3,1007.8 L604.9,1006.6 L606.5,1005.4 L608.1,1004.2 L609.7,1003.0 L611.3,1001.8 L612.9,1000.6 L614.4,999.4 L616.0,998.2 L617.6,996.9 L619.2,995.7 L620.7,994.5 L622.3,993.2 L623.9,992.0 L625.5,990.8 L627.0,989.5 L628.6,988.3 L630.1,987.0 L631.7,985.8 L633.3,984.5 L634.8,983.3 L636.4,982.0 L637.9,980.8 L639.5,979.5 L641.0,978.3 L642.6,977.0 L644.1,975.7 L645.6,974.5 L647.2,973.2 L648.7,971.9 L650.3,970.7 L651.8,969.4 L653.3,968.1 L654.9,966.8 L656.4,965.5 L657.9,964.2 L659.4,963.0 L661.0,961.7 L662.5,960.4 L664.0,959.1 L665.5,957.8 L667.1,956.5 L668.6,955.2 L670.1,953.9 L671.6,952.6 L673.1,951.3 L674.6,950.0 L676.2,948.7 L677.7,947.4 L679.2,946.1 L680.7,944.7 L682.2,943.4 L683.7,942.1 L685.2,940.8 L686.7,939.5 L688.2,938.2 L689.7,936.8 L691.2,935.5 L692.7,934.2 L694.2,932.9 L695.7,931.5 L697.2,930.2 L698.7,928.9 L700.2,927.6 L701.7,926.2 L703.2,924.9 L704.7,923.6 L706.1,922.2 L707.6,920.9 L709.1,919.6 L710.6,918.2 L712.1,916.9 L713.6,915.5 L715.1,914.2 L716.5,912.9 L718.0,911.5 L719.5,910.2 L721.0,908.8 L722.5,907.5 L724.0,906.1 L725.4,904.8 L726.9,903.4 L728.4,902.1 L729.9,900.7 L731.4,899.4 L732.8,898.0 L734.3,896.7 L735.8,895.3 L737.3,894.0 L738.7,892.6 L740.2,891.3 L741.7,889.9 L743.2,888.6 L744.6,887.2 L746.1,885.9 L747.6,884.5 L749.1,883.2 L750.5,881.8 L752.0,880.5 L753.5,879.1 L754.9,877.7 L756.4,876.4 L757.9,875.0 L759.4,873.7 L760.8,872.3 L762.3,871.0 L763.8,869.6 L765.2,868.3 L766.7,866.9 L768.2,865.5 L769.7,864.2 L771.1,862.8 L772.6,861.5 L774.1,860.1 L775.5,858.8 L777.0,857.4 L778.5,856.1 L780.0,854.7 L781.4,853.4 L782.9,852.0 L784.4,850.7 L785.8,849.3 L787.3,847.9 L788.8,846.6 L790.3,845.2 L791.7,843.9 L793.2,842.5 L794.7,841.2 L796.2,839.8 L797.6,838.5 L799.1,837.1 L800.6,835.8 L802.0,834.4 L803.5,833.1 L805.0,831.7 L806.5,830.4 L807.9,829.0 L809.4,827.7 L810.9,826.3 L812.4,825.0 L813.8,823.6 L815.3,822.3 L816.8,820.9 L818.3,819.6 L819.7,818.2 L821.2,816.9 L822.7,815.5 L824.2,814.2 L825.6,812.8 L827.1,811.5 L828.6,810.1 L830.1,808.8 L831.5,807.5 L833.0,806.1 L834.5,804.8 L836.0,803.4 L837.4,802.1 L838.9,800.7 L840.4,799.4 L841.9,798.0 L843.3,796.7 L844.8,795.3 L846.3,794.0 L847.8,792.7 L849.3,791.3 L850.7,790.0 L852.2,788.6 L853.7,787.3 L855.2,785.9 L856.7,784.6 L858.1,783.3 L859.6,781.9 L861.1,780.6 L862.6,779.2 L864.1,777.9 L865.5,776.5 L867.0,775.2 L868.5,773.9 L870.0,772.5 L871.5,771.2 L873.0,769.9 L874.4,768.5 L875.9,767.2 L877.4,765.8 L878.9,764.5 L880.4,763.2 L881.9,761.8 L883.3,760.5 L884.8,759.1 L886.3,757.8 L887.8,756.5 L889.3,755.1 L890.8,753.8 L892.3,752.5 L893.7,751.1 L895.2,749.8 L896.7,748.5 L898.2,747.1 L899.7,745.8 L901.2,744.5 L902.7,743.1 L904.2,741.8 L905.6,740.5 L907.1,739.1 L908.6,737.8 L910.1,736.5 L911.6,735.1 L913.1,733.8 L914.6,732.5 L916.1,731.1 L917.6,729.8 L919.1,728.5 L920.6,727.2 L922.1,725.8 L923.6,724.5 L925.0,723.2 L926.5,721.8 L928.0,720.5 L929.5,719.2 L931.0,717.9 L932.5,716.5 L934.0,715.2 L935.5,713.9 L937.0,712.6 L938.5,711.2 L940.0,709.9 L941.5,708.6 L943.0,707.3 L944.5,705.9 L946.0,704.6 L947.5,703.3 L949.0,702.0 L950.5,700.7 L952.0,699.3 L953.5,698.0 L955.0,696.7 L956.5,695.4 L958.0,694.0 L959.5,692.7 L961.0,691.4 L962.5,690.1 L964.1,688.8 L965.6,687.5 L967.1,686.1 L968.6,684.8 L970.1,683.5 L971.6,682.2 L973.1,680.9 L974.6,679.6 L976.1,678.2 L977.6,676.9 L979.1,675.6 L980.7,674.3 L982.2,673.0 L983.7,671.7 L985.2,670.4 L986.7,669.0 L988.2,667.7 L989.7,666.4 L991.3,665.1 L992.8,663.8 L994.3,662.5 L995.8,661.2 L997.3,659.9 L998.8,658.6 L1000.4,657.3 L1001.9,656.0 L1003.4,654.7 L1004.9,653.4 L1006.5,652.1 L1008.0,650.8 L1009.5,649.5 L1011.0,648.2 L1012.6,646.9 L1014.1,645.6 L1015.6,644.3 L1017.1,643.0 L1018.7,641.7 L1020.2,640.4 L1021.7,639.1 L1023.3,637.8 L1024.8,636.5 L1026.3,635.2 L1027.9,634.0 L1029.4,632.7 L1031.0,631.4 L1032.5,630.1 L1034.0,628.8 L1035.6,627.6 L1037.1,626.3 L1038.7,625.0 L1040.2,623.7 L1041.7,622.4 L1043.3,621.2 L1044.8,619.9 L1046.4,618.6 L1047.9,617.4 L1049.5,616.1 L1051.0,614.8 L1052.6,613.6 L1054.2,612.3 L1055.7,611.0 L1057.3,609.8 L1058.8,608.5 L1060.4,607.3 L1061.9,606.0 L1063.5,604.8 L1065.1,603.5 L1066.6,602.3 L1068.2,601.0 L1069.8,599.8 L1071.3,598.5 L1072.9,597.3 L1074.5,596.1 L1076.0,594.8 L1077.6,593.6 L1079.2,592.4 L1080.8,591.1 L1082.4,589.9 L1083.9,588.7 L1085.5,587.4 L1087.1,586.2 L1088.7,585.0 L1090.3,583.8 L1091.9,582.6 L1093.4,581.3 L1095.0,580.1 L1096.6,578.9 L1098.2,577.7 L1099.8,576.5 L1101.4,575.3 L1103.0,574.1 L1104.6,572.9 L1106.2,571.7 L1107.8,570.5 L1109.4,569.3 L1111.0,568.1 L1112.6,566.9 L1114.2,565.8 L1115.9,564.6 L1117.5,563.4 L1119.1,562.2 L1120.7,561.0 L1122.3,559.9 L1123.9,558.7 L1125.6,557.5 L1127.2,556.4 L1128.8,555.2 L1130.4,554.1 L1132.1,552.9 L1133.7,551.7 L1135.3,550.6 L1137.0,549.4 L1138.6,548.3 L1140.2,547.2 L1141.9,546.0 L1143.5,544.9 L1145.2,543.7 L1146.8,542.6 L1148.5,541.5 L1150.1,540.4 L1151.8,539.2 L1153.4,538.1 L1155.1,537.0 L1156.7,535.9 L1158.4,534.8 L1160.1,533.7 L1161.7,532.6 L1163.4,531.5 L1165.1,530.4 L1166.7,529.3 L1168.4,528.2 L1170.1,527.1 L1171.8,526.0 L1173.4,525.0 L1175.1,523.9 L1176.8,522.8 L1178.5,521.8 L1180.2,520.7 L1181.9,519.6 L1183.6,518.6 L1185.3,517.5 L1187.0,516.5 L1188.7,515.5 L1190.4,514.4 L1192.1,513.4 L1193.8,512.4 L1195.5,511.4 L1197.2,510.3 L1198.9,509.3 L1200.7,508.3 L1202.4,507.3 L1204.1,506.3 L1205.8,505.4 L1207.6,504.4 L1209.3,503.4 L1211.1,502.4 L1212.8,501.5 L1214.5,500.5 L1216.3,499.6 L1218.0,498.6 L1219.8,497.7 L1221.6,496.7 L1223.3,495.8 L1225.1,494.9 L1226.8,494.0 L1228.6,493.1 L1230.4,492.2 L1232.2,491.3 L1233.9,490.4 L1235.7,489.5 L1237.5,488.6 L1239.3,487.8 L1241.1,486.9 L1242.9,486.0 L1244.7,485.2 L1246.5,484.4 L1248.3,483.5 L1250.1,482.7 L1251.9,481.9 L1253.7,481.1 L1255.6,480.3 L1257.4,479.5 L1259.2,478.7 L1261.1,477.9 L1262.9,477.1 L1264.7,476.4 L1266.6,475.6 L1268.4,474.9 L1270.3,474.1 L1272.1,473.4 L1274.0,472.6 L1275.8,471.9 L1277.7,471.2 L1279.5,470.5 L1281.4,469.8 L1283.3,469.1 L1285.1,468.4 L1287.0,467.7 L1288.9,467.1 L1290.8,466.4 L1292.7,465.7 L1294.6,465.1 L1296.4,464.4 L1298.3,463.8 L1300.2,463.2 L1302.1,462.6 L1304.0,462.0 L1305.9,461.3 L1307.8,460.7 L1309.7,460.2 L1311.7,459.6 L1313.6,459.0 L1315.5,458.4 L1317.4,457.9 L1319.3,457.3 L1321.2,456.8 L1323.2,456.2 L1325.1,455.7 L1327.0,455.1 L1329.0,454.6 L1330.9,454.1 L1332.8,453.6 L1334.8,453.1 L1336.7,452.6 L1338.7,452.1 L1340.6,451.7 L1342.6,451.2 L1344.5,450.7 L1346.5,450.3 L1348.4,449.8 L1350.4,449.4 L1352.3,448.9 L1354.3,448.5 L1356.3,448.1 L1358.2,447.7 L1360.2,447.3 L1362.2,446.9 L1364.1,446.5 L1366.1,446.1 L1368.1,445.7 L1370.0,445.4 L1372.0,445.0 L1374.0,444.6 L1376.0,444.3 L1378.0,443.9 L1379.9,443.6 L1381.9,443.3 L1383.9,442.9 L1385.9,442.6 L1387.9,442.3 L1389.9,442.0 L1391.9,441.7 L1393.8,441.4 L1395.8,441.1 L1397.8,440.9 L1399.8,440.6 L1401.8,440.3 L1403.8,440.1 L1405.8,439.8 L1407.8,439.6 L1409.8,439.3 L1411.8,439.1 L1413.8,438.9 L1415.8,438.7 L1417.8,438.4 L1419.8,438.2 L1421.8,438.0 L1423.8,437.8 L1425.8,437.6 L1427.8,437.5 L1429.8,437.3 L1431.8,437.1 L1433.8,437.0 L1435.8,436.8 L1437.9,436.6 L1439.9,436.5 L1441.9,436.4 L1443.9,436.2 L1445.9,436.1 L1447.9,436.0 L1449.9,435.9 L1451.9,435.7 L1453.9,435.6 L1455.9,435.5 L1457.9,435.4 L1459.9,435.4 L1461.9,435.3 L1463.9,435.2 L1465.9,435.1 L1467.9,435.1 L1470.0,435.0 L1472.0,435.0 L1474.0,434.9 L1476.0,434.9 L1478.0,434.8 L1480.0,434.8 L1482.0,434.8 L1484.0,434.8 L1486.0,434.7 L1488.0,434.7 L1490.0,434.7 L1492.0,434.7 L1494.0,434.7 L1496.0,434.7 L1498.0,434.8 L1500.0,434.8 L1502.0,434.8 L1504.0,434.8 L1506.0,434.9 L1508.0,434.9 L1510.0,434.9 L1512.0,435.0 L1514.0,435.1 L1516.0,435.1 L1518.0,435.2 L1520.0,435.2 L1522.0,435.3 L1524.0,435.4 L1526.0,435.5 L1528.0,435.5 L1530.0,435.6 L1532.0,435.7 L1534.0,435.8 L1536.0,435.9 L1537.9,436.0 L1539.9,436.1 L1541.9,436.3 L1543.9,436.4 L1545.9,436.5 L1547.9,436.6 L1549.9,436.7 L1551.9,436.9 L1553.9,437.0 L1555.9,437.1 L1557.9,437.3 L1559.9,437.4 L1561.9,437.6 L1563.9,437.7 L1565.9,437.9 L1567.8,438.0 L1569.8,438.2 L1571.8,438.4 L1573.8,438.5 L1575.8,438.7 L1577.8,438.9 L1579.8,439.1 L1581.8,439.2 L1583.8,439.4 L1585.8,439.6 L1587.8,439.8 L1589.7,440.0 L1591.7,440.2 L1593.7,440.4 L1595.7,440.6 L1597.7,440.8 L1599.7,441.0 L1601.7,441.2 L1603.7,441.4 L1605.7,441.6 L1607.6,441.8 L1609.6,442.1 L1611.6,442.3 L1613.6,442.5 L1615.6,442.7 L1617.6,442.9 L1619.6,443.2 L1621.6,443.4 L1623.5,443.6 L1625.5,443.9 L1627.5,444.1 L1629.5,444.3 L1631.5,444.6 L1633.5,444.8 L1635.5,445.0 L1637.5,445.3 L1639.4,445.5 L1641.4,445.8 L1643.4,446.0 L1645.4,446.3 L1647.4,446.5 L1649.4,446.8 L1651.4,447.0 L1653.3,447.3 L1655.3,447.5 L1657.3,447.8 L1659.3,448.1 L1661.3,448.3 L1663.3,448.6 L1665.2,448.8 L1667.2,449.1 L1669.2,449.4 L1671.2,449.6 L1673.2,449.9 L1675.2,450.1 L1677.2,450.4 L1679.1,450.7 L1681.1,450.9 L1683.1,451.2 L1685.1,451.5 L1687.1,451.7 L1689.1,452.0 L1691.0,452.3 L1693.0,452.5 L1695.0,452.8 L1697.0,453.1 L1699.0,453.3 L1701.0,453.6 L1702.9,453.9 L1704.9,454.2 L1706.9,454.4 L1708.9,454.7 L1710.9,455.0 L1712.9,455.2 L1714.8,455.5 L1716.8,455.8 L1718.8,456.0 L1720.8,456.3 L1722.8,456.6 L1724.8,456.8 L1726.7,457.1 L1728.7,457.3 L1730.7,457.6 L1732.7,457.9 L1734.7,458.1 L1736.6,458.4 L1738.6,458.7 L1740.6,458.9 L1742.6,459.2 L1744.6,459.4 L1746.6,459.7 L1748.5,460.0 L1750.5,460.2 L1752.5,460.5 L1754.5,460.7 L1756.5,461.0 L1758.5,461.2 L1760.4,461.5 L1762.4,461.7 L1764.4,462.0 L1766.4,462.2 L1768.4,462.5 L1770.4,462.7 L1772.3,463.0 L1774.3,463.2 L1776.3,463.5 L1778.3,463.7 L1780.3,464.0 L1782.3,464.2 L1784.2,464.5 L1786.2,464.7 L1788.2,464.9 L1790.2,465.2 L1792.2,465.4 L1794.2,465.6 L1796.1,465.9 L1798.1,466.1 L1800.1,466.3 L1802.1,466.6 L1804.1,466.8 L1806.1,467.0 L1808.1,467.3 L1810.0,467.5 L1812.0,467.7 L1814.0,467.9 L1816.0,468.2 L1818.0,468.4 L1820.0,468.6 L1822.0,468.8 L1823.9,469.0 L1825.9,469.2 L1827.9,469.5 L1829.9,469.7 L1831.9,469.9 L1833.9,470.1 L1835.9,470.3 L1837.8,470.5 L1839.8,470.7 L1841.8,470.9 L1843.8,471.1 L1845.8,471.3 L1847.8,471.5 L1849.8,471.7 L1851.8,471.9 L1853.8,472.1 L1855.7,472.3 L1857.7,472.4 L1859.7,472.6 L1861.7,472.8 L1863.7,473.0 L1865.7,473.2 L1867.7,473.4 L1869.7,473.5 L1871.7,473.7 L1873.7,473.9 L1875.7,474.0 L1877.6,474.2 L1879.6,474.4 L1881.6,474.5 L1883.6,474.7 L1885.6,474.9 L1887.6,475.0 L1889.6,475.2 L1891.6,475.3 L1893.6,475.5 L1895.6,475.6 L1897.6,475.8 L1899.6,475.9 L1901.6,476.1 L1903.6,476.2 L1905.6,476.4 L1907.6,476.5 L1909.6,476.6 L1911.5,476.8 L1913.5,476.9 L1915.5,477.1 L1917.5,477.2 L1919.5,477.3 L1921.5,477.5 L1923.5,477.6 L1925.5,477.7 L1927.5,477.9 L1929.5,478.0 L1931.5,478.1 L1933.5,478.3 L1935.5,478.4 L1937.5,478.5 L1939.5,478.6 L1941.5,478.8 L1943.5,478.9 L1945.5,479.0 L1947.5,479.1 L1949.5,479.3 L1951.5,479.4 L1953.5,479.5 L1955.5,479.7 L1957.5,479.8 L1959.5,479.9 L1961.5,480.0 L1963.5,480.2 L1965.5,480.3 L1967.5,480.4 L1969.5,480.6 L1971.5,480.7 L1973.5,480.8 L1975.5,480.9 L1977.5,481.1 L1979.5,481.2 L1981.5,481.3 L1983.5,481.5 L1985.5,481.6 L1987.5,481.8 L1989.5,481.9 L1991.4,482.0 L1993.4,482.2 L1995.4,482.3 L1997.4,482.5 L1999.4,482.6 L2001.4,482.7 L2003.4,482.9 L2005.4,483.0 L2007.4,483.2 L2009.4,483.3 L2011.4,483.5 L2013.4,483.7 L2015.4,483.8 L2017.4,484.0 L2019.4,484.1 L2021.4,484.3 L2023.4,484.5 L2025.4,484.6 L2027.4,484.8 L2029.4,485.0 L2031.4,485.1 L2033.3,485.3 L2035.3,485.5 L2037.3,485.7 L2039.3,485.9 L2041.3,486.0 L2043.3,486.2 L2045.3,486.4 L2047.3,486.6 L2049.3,486.8 L2051.3,487.0 L2053.3,487.2 L2055.2,487.4 L2057.2,487.6 L2059.2,487.9 L2061.2,488.1 L2063.2,488.3 L2065.2,488.5 L2067.2,488.7 L2069.2,489.0 L2071.1,489.2 L2073.1,489.4 L2075.1,489.7 L2077.1,489.9 L2079.1,490.1 L2081.1,490.4 L2083.1,490.6 L2085.0,490.9 L2087.0,491.1 L2089.0,491.4 L2091.0,491.6 L2093.0,491.9 L2095.0,492.2 L2096.9,492.4 L2098.9,492.7 L2100.9,493.0 L2102.9,493.2 L2104.9,493.5 L2106.8,493.8 L2108.8,494.1 L2110.8,494.3 L2112.8,494.6 L2114.8,494.9 L2116.7,495.2 L2118.7,495.5 L2120.7,495.8 L2122.7,496.1 L2124.7,496.4 L2126.6,496.7 L2128.6,497.0 L2130.6,497.3 L2132.6,497.6 L2134.5,497.9 L2136.5,498.2 L2138.5,498.5 L2140.5,498.9 L2142.4,499.2 L2144.4,499.5 L2146.4,499.8 L2148.4,500.2 L2150.3,500.5 L2152.3,500.8 L2154.3,501.2 L2156.3,501.5 L2158.2,501.8 L2160.2,502.2 L2162.2,502.5 L2164.1,502.9 L2166.1,503.2 L2168.1,503.6 L2170.0,503.9 L2172.0,504.3 L2174.0,504.6 L2176.0,505.0 L2177.9,505.3 L2179.9,505.7 L2181.9,506.1 L2183.8,506.4 L2185.8,506.8 L2187.8,507.2 L2189.7,507.5 L2191.7,507.9 L2193.7,508.3 L2195.6,508.7 L2197.6,509.0 L2199.6,509.4 L2201.5,509.8 L2203.5,510.2 L2205.5,510.6 L2207.4,511.0 L2209.4,511.3 L2211.3,511.7 L2213.3,512.1 L2215.3,512.5 L2217.2,512.9 L2219.2,513.3 L2221.2,513.7 L2223.1,514.1 L2225.1,514.5 L2227.0,514.9 L2229.0,515.3 L2231.0,515.7 L2232.9,516.2 L2234.9,516.6 L2236.8,517.0 L2238.8,517.4 L2240.8,517.8 L2242.7,518.2 L2244.7,518.7 L2246.6,519.1 L2248.6,519.5 L2250.5,519.9 L2252.5,520.3 L2254.5,520.8 L2256.4,521.2 L2258.4,521.6 L2260.3,522.1 L2262.3,522.5 L2264.2,522.9 L2266.2,523.4 L2268.1,523.8 L2270.1,524.2 L2272.1,524.7 L2274.0,525.1 L2276.0,525.6 L2277.9,526.0 L2279.9,526.5 L2281.8,526.9 L2283.8,527.4 L2285.7,527.8 L2287.7,528.3 L2289.6,528.7 L2291.6,529.2 L2293.5,529.6 L2295.5,530.1 L2297.4,530.5 L2299.4,531.0 L2301.3,531.4 L2303.3,531.9 L2305.2,532.4 L2307.2,532.8 L2309.1,533.3 L2311.1,533.8 L2313.0,534.2 L2315.0,534.7 L2316.9,535.2 L2318.9,535.6 L2320.8,536.1 L2322.7,536.6 L2324.7,537.0 L2326.6,537.5 L2328.6,538.0 L2330.5,538.5 L2332.5,538.9 L2334.4,539.4 L2336.4,539.9 L2338.3,540.4 L2340.2,540.8 L2342.2,541.3 L2344.1,541.8 L2346.1,542.3 L2348.0,542.8 L2350.0,543.3" transform="translate(-1.85,-1.85)"/>
<use href="#c6" transform="translate(3.70,0.00)"/>
<use href="#c6" transform="translate(0.00,3.70)"/>
<use href="#c6" transform="translate(3.70,3.70)"/>
</g>
<g stroke="#000000" stroke-width="7.0" stroke-dasharray="7.1 13.0">
<path id="c7" d="M226.4,1072.0 L228.5,1071.8 L230.5,1071.6 L232.5,1071.4 L234.6,1071.2 L236.6,1071.1 L238.6,1070.9 L240.6,1070.8 L242.7,1070.7 L244.7,1070.6 L246.7,1070.5 L248.7,1070.4 L250.7,1070.3 L252.7,1070.3 L254.7,1070.2 L256.8,1070.2 L258.8,1070.2 L260.8,1070.2 L262.8,1070.2 L264.8,1070.3 L266.8,1070.3 L268.8,1070.4 L270.8,1070.4 L272.8,1070.5 L274.8,1070.6 L276.8,1070.7 L278.7,1070.8 L280.7,1070.9 L282.7,1071.0 L284.7,1071.2 L286.7,1071.3 L288.7,1071.5 L290.7,1071.6 L292.7,1071.8 L294.6,1072.0 L296.6,1072.2 L298.6,1072.4 L300.6,1072.6 L302.6,1072.8 L304.5,1073.0 L306.5,1073.3 L308.5,1073.5 L310.5,1073.8 L312.4,1074.0 L314.4,1074.3 L316.4,1074.5 L318.3,1074.8 L320.3,1075.1 L322.3,1075.4 L324.3,1075.7 L326.2,1075.9 L328.2,1076.2 L330.2,1076.5 L332.1,1076.8 L334.1,1077.2 L336.1,1077.5 L338.0,1077.8 L340.0,1078.1 L342.0,1078.4 L343.9,1078.8 L345.9,1079.1 L347.9,1079.4 L349.8,1079.8 L351.8,1080.1 L353.8,1080.4 L355.7,1080.8 L357.7,1081.1 L359.7,1081.5 L361.6,1081.8 L363.6,1082.2 L365.6,1082.5 L367.5,1082.9 L369.5,1083.2 L371.5,1083.6 L373.5,1083.9 L375.4,1084.2 L377.4,1084.6 L379.4,1084.9 L381.3,1085.3 L383.3,1085.6 L385.3,1086.0 L387.3,1086.3 L389.2,1086.6 L391.2,1087.0 L393.2,1087.3 L395.1,1087.6 L397.1,1087.9 L399.1,1088.3 L401.1,1088.6 L403.1,1088.9 L405.0,1089.2 L407.0,1089.5 L409.0,1089.8 L411.0,1090.1 L413.0,1090.4 L415.0,1090.7 L416.9,1090.9 L418.9,1091.2 L420.9,1091.5 L422.9,1091.8 L424.9,1092.0 L426.9,1092.3 L428.9,1092.5 L430.9,1092.7 L432.9,1093.0 L434.9,1093.2 L436.9,1093.4 L438.9,1093.6 L440.9,1093.8 L442.9,1094.0 L444.9,1094.2 L446.9,1094.3 L448.9,1094.5 L450.9,1094.6 L452.9,1094.8 L454.9,1094.9 L457.0,1095.0 L459.0,1095.2 L461.0,1095.3 L463.0,1095.4 L465.0,1095.4 L467.0,1095.5 L469.1,1095.6 L471.1,1095.6 L473.1,1095.7 L475.1,1095.7 L477.1,1095.7 L479.2,1095.8 L481.2,1095.8 L483.2,1095.7 L485.2,1095.7 L487.2,1095.7 L489.3,1095.7 L491.3,1095.6 L493.3,1095.5 L495.3,1095.5 L497.3,1095.4 L499.3,1095.3 L501.4,1095.2 L503.4,1095.1 L505.4,1094.9 L507.4,1094.8 L509.4,1094.6 L511.4,1094.5 L513.4,1094.3 L515.4,1094.1 L517.4,1093.9 L519.4,1093.7 L521.4,1093.5 L523.4,1093.2 L525.3,1093.0 L527.3,1092.7 L529.3,1092.4 L531.3,1092.2 L533.3,1091.8 L535.2,1091.5 L537.2,1091.2 L539.2,1090.9 L541.1,1090.5 L543.1,1090.1 L545.0,1089.8 L547.0,1089.4 L548.9,1089.0 L550.8,1088.5 L552.8,1088.1 L554.7,1087.7 L556.6,1087.2 L558.5,1086.7 L560.5,1086.2 L562.4,1085.7 L564.3,1085.2 L566.2,1084.7 L568.1,1084.1 L569.9,1083.5 L571.8,1083.0 L573.7,1082.4 L575.6,1081.8 L577.4,1081.1 L579.3,1080.5 L581.1,1079.9 L583.0,1079.2 L584.8,1078.5 L586.6,1077.8 L588.5,1077.1 L590.3,1076.4 L592.1,1075.7 L593.9,1074.9 L595.7,1074.1 L597.5,1073.4 L599.3,1072.6 L601.1,1071.8 L602.9,1070.9 L604.6,1070.1 L606.4,1069.3 L608.2,1068.4 L609.9,1067.5 L611.7,1066.7 L613.4,1065.8 L615.2,1064.9 L616.9,1063.9 L618.6,1063.0 L620.3,1062.1 L622.1,1061.1 L623.8,1060.2 L625.5,1059.2 L627.2,1058.2 L628.9,1057.2 L630.6,1056.2 L632.2,1055.2 L633.9,1054.1 L635.6,1053.1 L637.3,1052.0 L638.9,1051.0 L640.6,1049.9 L642.2,1048.8 L643.9,1047.7 L645.5,1046.6 L647.1,1045.5 L648.8,1044.3 L650.4,1043.2 L652.0,1042.1 L653.6,1040.9 L655.3,1039.7 L656.9,1038.6 L658.5,1037.4 L660.1,1036.2 L661.6,1035.0 L663.2,1033.8 L664.8,1032.6 L666.4,1031.3 L668.0,1030.1 L669.5,1028.9 L671.1,1027.6 L672.6,1026.4 L674.2,1025.1 L675.7,1023.8 L677.3,1022.5 L678.8,1021.2 L680.4,1019.9 L681.9,1018.6 L683.4,1017.3 L684.9,1016.0 L686.4,1014.7 L687.9,1013.3 L689.5,1012.0 L691.0,1010.7 L692.5,1009.3 L693.9,1007.9 L695.4,1006.6 L696.9,1005.2 L698.4,1003.8 L699.9,1002.4 L701.3,1001.0 L702.8,999.7 L704.3,998.3 L705.7,996.8 L707.2,995.4 L708.6,994.0 L710.1,992.6 L711.5,991.2 L712.9,989.7 L714.4,988.3 L715.8,986.9 L717.2,985.4 L718.6,984.0 L720.1,982.5 L721.5,981.1 L722.9,979.6 L724.3,978.1 L725.7,976.7 L727.1,975.2 L728.5,973.7 L729.8,972.2 L731.2,970.8 L732.6,969.3 L734.0,967.8 L735.4,966.3 L736.7,964.8 L738.1,963.3 L739.5,961.8 L740.8,960.3 L742.2,958.8 L743.5,957.3 L744.9,955.8 L746.2,954.3 L747.5,952.8 L748.9,951.3 L750.2,949.8 L751.5,948.2 L752.9,946.7 L754.2,945.2 L755.5,943.7 L756.8,942.2 L758.1,940.6 L759.4,939.1 L760.7,937.6 L762.0,936.1 L763.3,934.5 L764.6,933.0 L765.9,931.5 L767.2,929.9 L768.5,928.4 L769.8,926.9 L771.1,925.3 L772.3,923.8 L773.6,922.2 L774.9,920.7 L776.1,919.2 L777.4,917.6 L778.7,916.1 L779.9,914.5 L781.2,913.0 L782.4,911.4 L783.7,909.9 L784.9,908.3 L786.2,906.7 L787.4,905.2 L788.7,903.6 L789.9,902.1 L791.1,900.5 L792.4,898.9 L793.6,897.4 L794.8,895.8 L796.0,894.2 L797.3,892.7 L798.5,891.1 L799.7,889.5 L800.9,887.9 L802.1,886.4 L803.3,884.8 L804.6,883.2 L805.8,881.6 L807.0,880.1 L808.2,878.5 L809.4,876.9 L810.6,875.3 L811.8,873.7 L812.9,872.1 L814.1,870.6 L815.3,869.0 L816.5,867.4 L817.7,865.8 L818.9,864.2 L820.1,862.6 L821.2,861.0 L822.4,859.4 L823.6,857.8 L824.8,856.2 L825.9,854.6 L827.1,853.0 L828.3,851.4 L829.4,849.8 L830.6,848.2 L831.8,846.6 L832.9,845.0 L834.1,843.4 L835.2,841.8 L836.4,840.2 L837.6,838.6 L838.7,837.0 L839.9,835.4 L841.0,833.7 L842.2,832.1 L843.3,830.5 L844.5,828.9 L845.6,827.3 L846.8,825.7 L847.9,824.0 L849.0,822.4 L850.2,820.8 L851.3,819.2 L852.5,817.6 L853.6,815.9 L854.7,814.3 L855.9,812.7 L857.0,811.1 L858.2,809.4 L859.3,807.8 L860.4,806.2 L861.6,804.6 L862.7,802.9 L863.8,801.3 L864.9,799.7 L866.1,798.0 L867.2,796.4 L868.3,794.8 L869.5,793.1 L870.6,791.5 L871.7,789.9 L872.8,788.2 L874.0,786.6 L875.1,785.0 L876.2,783.3 L877.3,781.7 L878.4,780.0 L879.6,778.4 L880.7,776.7 L881.8,775.1 L882.9,773.5 L884.1,771.8 L885.2,770.2 L886.3,768.5 L887.4,766.9 L888.5,765.2 L889.7,763.6 L890.8,761.9 L891.9,760.3 L893.0,758.7 L894.1,757.0 L895.3,755.4 L896.4,753.7 L897.5,752.1 L898.6,750.4 L899.7,748.8 L900.9,747.1 L902.0,745.4 L903.1,743.8 L904.2,742.1 L905.3,740.5 L906.5,738.8 L907.6,737.2 L908.7,735.5 L909.8,733.9 L911.0,732.2 L912.1,730.6 L913.2,728.9 L914.3,727.2 L915.5,725.6 L916.6,723.9 L917.7,722.3 L918.8,720.6 L920.0,718.9 L921.1,717.3 L922.2,715.6 L923.4,714.0 L924.5,712.3 L925.6,710.6 L926.7,709.0 L927.9,707.3 L929.0,705.7 L930.2,704.0 L931.3,702.3 L932.4,700.7 L933.6,699.0 L934.7,697.4 L935.8,695.7 L937.0,694.0 L938.1,692.4 L939.3,690.7 L940.4,689.1 L941.6,687.4 L942.7,685.8 L943.9,684.1 L945.0,682.4 L946.2,680.8 L947.3,679.1 L948.5,677.5 L949.7,675.8 L950.8,674.2 L952.0,672.5 L953.2,670.9 L954.3,669.2 L955.5,667.6 L956.7,665.9 L957.9,664.3 L959.0,662.7 L960.2,661.0 L961.4,659.4 L962.6,657.8 L963.8,656.1 L965.0,654.5 L966.2,652.9 L967.4,651.2 L968.6,649.6 L969.8,648.0 L971.0,646.4 L972.2,644.7 L973.4,643.1 L974.6,641.5 L975.8,639.9 L977.0,638.3 L978.3,636.7 L979.5,635.1 L980.7,633.5 L981.9,631.9 L983.2,630.3 L984.4,628.7 L985.7,627.1 L986.9,625.5 L988.2,623.9 L989.4,622.4 L990.7,620.8 L991.9,619.2 L993.2,617.6 L994.5,616.1 L995.8,614.5 L997.0,613.0 L998.3,611.4 L999.6,609.9 L1000.9,608.3 L1002.2,606.8 L1003.5,605.2 L1004.8,603.7 L1006.1,602.2 L1007.4,600.6 L1008.7,599.1 L1010.0,597.6 L1011.4,596.1 L1012.7,594.6 L1014.0,593.1 L1015.4,591.6 L1016.7,590.1 L1018.1,588.6 L1019.4,587.1 L1020.8,585.6 L1022.2,584.2 L1023.5,582.7 L1024.9,581.2 L1026.3,579.8 L1027.7,578.4 L1029.1,576.9 L1030.5,575.5 L1031.9,574.1 L1033.3,572.7 L1034.7,571.3 L1036.2,569.9 L1037.6,568.5 L1039.1,567.1 L1040.5,565.8 L1042.0,564.4 L1043.4,563.1 L1044.9,561.8 L1046.4,560.5 L1047.9,559.1 L1049.4,557.9 L1050.9,556.6 L1052.4,555.3 L1053.9,554.0 L1055.5,552.8 L1057.0,551.6 L1058.5,550.3 L1060.1,549.1 L1061.7,547.9 L1063.2,546.8 L1064.8,545.6 L1066.4,544.4 L1068.0,543.3 L1069.6,542.2 L1071.3,541.1 L1072.9,540.0 L1074.5,538.9 L1076.2,537.8 L1077.9,536.8 L1079.5,535.7 L1081.2,534.7 L1082.9,533.7 L1084.6,532.7 L1086.3,531.8 L1088.0,530.8 L1089.8,529.8 L1091.5,528.9 L1093.2,528.0 L1095.0,527.1 L1096.7,526.2 L1098.5,525.3 L1100.3,524.4 L1102.1,523.6 L1103.9,522.7 L1105.6,521.9 L1107.4,521.0 L1109.3,520.2 L1111.1,519.4 L1112.9,518.6 L1114.7,517.8 L1116.5,517.1 L1118.4,516.3 L1120.2,515.5 L1122.0,514.8 L1123.9,514.0 L1125.8,513.3 L1127.6,512.6 L1129.5,511.9 L1131.3,511.2 L1133.2,510.5 L1135.1,509.8 L1137.0,509.1 L1138.8,508.4 L1140.7,507.7 L1142.6,507.0 L1144.5,506.4 L1146.4,505.7 L1148.3,505.1 L1150.2,504.4 L1152.0,503.8 L1153.9,503.1 L1155.8,502.5 L1157.7,501.9 L1159.6,501.2 L1161.5,500.6 L1163.4,500.0 L1165.3,499.4 L1167.2,498.8 L1169.1,498.2 L1171.1,497.6 L1173.0,496.9 L1174.9,496.4 L1176.8,495.8 L1178.7,495.2 L1180.6,494.6 L1182.5,494.0 L1184.4,493.4 L1186.3,492.8 L1188.2,492.3 L1190.2,491.7 L1192.1,491.1 L1194.0,490.6 L1195.9,490.0 L1197.8,489.5 L1199.7,488.9 L1201.7,488.4 L1203.6,487.8 L1205.5,487.3 L1207.4,486.8 L1209.4,486.2 L1211.3,485.7 L1213.2,485.2 L1215.1,484.7 L1217.1,484.1 L1219.0,483.6 L1220.9,483.1 L1222.8,482.6 L1224.8,482.1 L1226.7,481.6 L1228.6,481.1 L1230.6,480.6 L1232.5,480.1 L1234.4,479.6 L1236.4,479.2 L1238.3,478.7 L1240.3,478.2 L1242.2,477.7 L1244.1,477.3 L1246.1,476.8 L1248.0,476.3 L1250.0,475.9 L1251.9,475.4 L1253.8,475.0 L1255.8,474.5 L1257.7,474.1 L1259.7,473.6 L1261.6,473.2 L1263.6,472.7 L1265.5,472.3 L1267.5,471.9 L1269.4,471.5 L1271.4,471.0 L1273.3,470.6 L1275.3,470.2 L1277.2,469.8 L1279.2,469.4 L1281.1,469.0 L1283.1,468.6 L1285.0,468.2 L1287.0,467.8 L1288.9,467.4 L1290.9,467.0 L1292.9,466.6 L1294.8,466.2 L1296.8,465.8 L1298.7,465.4 L1300.7,465.1 L1302.7,464.7 L1304.6,464.3 L1306.6,464.0 L1308.5,463.6 L1310.5,463.2 L1312.5,462.9 L1314.4,462.5 L1316.4,462.2 L1318.4,461.8 L1320.3,461.5 L1322.3,461.1 L1324.3,460.8 L1326.2,460.4 L1328.2,460.1 L1330.2,459.8 L1332.1,459.4 L1334.1,459.1 L1336.1,458.8 L1338.1,458.5 L1340.0,458.2 L1342.0,457.8 L1344.0,457.5 L1345.9,457.2 L1347.9,456.9 L1349.9,456.6 L1351.9,456.3 L1353.9,456.0 L1355.8,455.7 L1357.8,455.4 L1359.8,455.1 L1361.8,454.9 L1363.7,454.6 L1365.7,454.3 L1367.7,454.0 L1369.7,453.7 L1371.7,453.5 L1373.6,453.2 L1375.6,452.9 L1377.6,452.6 L1379.6,452.4 L1381.6,452.1 L1383.5,451.9 L1385.5,451.6 L1387.5,451.4 L1389.5,451.1 L1391.5,450.9 L1393.5,450.6 L1395.5,450.4 L1397.4,450.1 L1399.4,449.9 L1401.4,449.7 L1403.4,449.4 L1405.4,449.2 L1407.4,449.0 L1409.4,448.7 L1411.4,448.5 L1413.3,448.3 L1415.3,448.1 L1417.3,447.9 L1419.3,447.7 L1421.3,447.4 L1423.3,447.2 L1425.3,447.0 L1427.3,446.8 L1429.3,446.6 L1431.3,446.4 L1433.2,446.2 L1435.2,446.0 L1437.2,445.8 L1439.2,445.6 L1441.2,445.5 L1443.2,445.3 L1445.2,445.1 L1447.2,444.9 L1449.2,444.7 L1451.2,444.6 L1453.2,444.4 L1455.2,444.2 L1457.2,444.0 L1459.2,443.9 L1461.2,443.7 L1463.2,443.5 L1465.2,443.4 L1467.2,443.2 L1469.2,443.1 L1471.2,442.9 L1473.1,442.7 L1475.1,442.6 L1477.1,442.4 L1479.1,442.3 L1481.1,442.2 L1483.1,442.0 L1485.1,441.9 L1487.1,441.7 L1489.1,441.6 L1491.1,441.5 L1493.1,441.3 L1495.1,441.2 L1497.1,441.1 L1499.1,440.9 L1501.1,440.8 L1503.1,440.7 L1505.1,440.6 L1507.1,440.5 L1509.1,440.3 L1511.1,440.2 L1513.1,440.1 L1515.1,440.0 L1517.1,439.9 L1519.1,439.8 L1521.1,439.7 L1523.1,439.6 L1525.1,439.5 L1527.1,439.4 L1529.1,439.3 L1531.1,439.2 L1533.1,439.1 L1535.1,439.0 L1537.1,438.9 L1539.1,438.8 L1541.1,438.7 L1543.1,438.6 L1545.1,438.5 L1547.1,438.4 L1549.1,438.4 L1551.1,438.3 L1553.1,438.2 L1555.1,438.1 L1557.1,438.1 L1559.1,438.0 L1561.1,437.9 L1563.1,437.8 L1565.1,437.8 L1567.1,437.7 L1569.1,437.6 L1571.1,437.6 L1573.2,437.5 L1575.2,437.4 L1577.2,437.4 L1579.2,437.3 L1581.2,437.3 L1583.2,437.2 L1585.2,437.2 L1587.2,437.1 L1589.2,437.1 L1591.2,437.0 L1593.2,437.0 L1595.2,436.9 L1597.2,436.9 L1599.2,436.8 L1601.1,436.8 L1603.1,436.7 L1605.1,436.7 L1607.1,436.7 L1609.1,436.6 L1611.1,436.6 L1613.1,436.6 L1615.1,436.5 L1617.1,436.5 L1619.1,436.5 L1621.1,436.4 L1623.1,436.4 L1625.1,436.4 L1627.1,436.3 L1629.1,436.3 L1631.1,436.3 L1633.1,436.3 L1635.1,436.3 L1637.1,436.2 L1639.1,436.2 L1641.1,436.2 L1643.1,436.2 L1645.1,436.2 L1647.1,436.2 L1649.1,436.1 L1651.1,436.1 L1653.1,436.1 L1655.1,436.1 L1657.1,436.1 L1659.0,436.1 L1661.0,436.1 L1663.0,436.1 L1665.0,436.1 L1667.0,436.1 L1669.0,436.1 L1671.0,436.1 L1673.0,436.1 L1675.0,436.1 L1677.0,436.1 L1679.0,436.2 L1681.0,436.2 L1682.9,436.2 L1684.9,436.2 L1686.9,436.3 L1688.9,436.3 L1690.9,436.3 L1692.9,436.4 L1694.9,436.4 L1696.9,436.4 L1698.8,436.5 L1700.8,436.5 L1702.8,436.6 L1704.8,436.7 L1706.8,436.7 L1708.8,436.8 L1710.8,436.9 L1712.8,436.9 L1714.7,437.0 L1716.7,437.1 L1718.7,437.2 L1720.7,437.3 L1722.7,437.4 L1724.7,437.5 L1726.6,437.6 L1728.6,437.7 L1730.6,437.8 L1732.6,437.9 L1734.6,438.0 L1736.5,438.2 L1738.5,438.3 L1740.5,438.4 L1742.5,438.6 L1744.5,438.7 L1746.4,438.9 L1748.4,439.1 L1750.4,439.2 L1752.4,439.4 L1754.3,439.6 L1756.3,439.8 L1758.3,440.0 L1760.3,440.2 L1762.2,440.4 L1764.2,440.6 L1766.2,440.8 L1768.2,441.0 L1770.1,441.3 L1772.1,441.5 L1774.1,441.8 L1776.1,442.0 L1778.0,442.3 L1780.0,442.5 L1782.0,442.8 L1783.9,443.1 L1785.9,443.4 L1787.9,443.7 L1789.9,444.0 L1791.8,444.3 L1793.8,444.6 L1795.8,445.0 L1797.7,445.3 L1799.7,445.6 L1801.7,446.0 L1803.6,446.3 L1805.6,446.7 L1807.6,447.1 L1809.5,447.4 L1811.5,447.8 L1813.4,448.2 L1815.4,448.6 L1817.4,449.0 L1819.3,449.4 L1821.3,449.8 L1823.2,450.2 L1825.2,450.6 L1827.2,451.1 L1829.1,451.5 L1831.1,451.9 L1833.0,452.4 L1835.0,452.8 L1837.0,453.3 L1838.9,453.7 L1840.9,454.2 L1842.8,454.7 L1844.8,455.2 L1846.7,455.6 L1848.7,456.1 L1850.6,456.6 L1852.6,457.1 L1854.5,457.6 L1856.5,458.1 L1858.4,458.6 L1860.4,459.1 L1862.3,459.7 L1864.2,460.2 L1866.2,460.7 L1868.1,461.2 L1870.1,461.8 L1872.0,462.3 L1874.0,462.8 L1875.9,463.4 L1877.8,463.9 L1879.8,464.5 L1881.7,465.0 L1883.7,465.6 L1885.6,466.1 L1887.5,466.7 L1889.5,467.3 L1891.4,467.8 L1893.3,468.4 L1895.3,469.0 L1897.2,469.6 L1899.1,470.2 L1901.0,470.7 L1903.0,471.3 L1904.9,471.9 L1906.8,472.5 L1908.8,473.1 L1910.7,473.7 L1912.6,474.3 L1914.5,474.9 L1916.4,475.5 L1918.4,476.1 L1920.3,476.7 L1922.2,477.3 L1924.1,477.9 L1926.0,478.5 L1927.9,479.1 L1929.9,479.7 L1931.8,480.3 L1933.7,481.0 L1935.6,481.6 L1937.5,482.2 L1939.4,482.8 L1941.3,483.4 L1943.2,484.0 L1945.2,484.6 L1947.1,485.2 L1949.0,485.9 L1950.9,486.5 L1952.8,487.1 L1954.7,487.7 L1956.6,488.3 L1958.5,488.9 L1960.4,489.5 L1962.3,490.1 L1964.2,490.7 L1966.2,491.3 L1968.1,491.9 L1970.0,492.5 L1971.9,493.1 L1973.8,493.6 L1975.7,494.2 L1977.6,494.8 L1979.5,495.4 L1981.4,496.0 L1983.3,496.5 L1985.3,497.1 L1987.2,497.7 L1989.1,498.2 L1991.0,498.8 L1992.9,499.3 L1994.8,499.9 L1996.7,500.4 L1998.7,500.9 L2000.6,501.5 L2002.5,502.0 L2004.4,502.5 L2006.3,503.0 L2008.3,503.5 L2010.2,504.0 L2012.1,504.5 L2014.0,505.0 L2016.0,505.5 L2017.9,506.0 L2019.8,506.4 L2021.7,506.9 L2023.7,507.3 L2025.6,507.8 L2027.5,508.2 L2029.5,508.7 L2031.4,509.1 L2033.4,509.5 L2035.3,509.9 L2037.2,510.3 L2039.2,510.7 L2041.1,511.1 L2043.1,511.5 L2045.0,511.9 L2047.0,512.2 L2048.9,512.6 L2050.9,512.9 L2052.8,513.3 L2054.8,513.6 L2056.7,513.9 L2058.7,514.3 L2060.7,514.6 L2062.6,514.9 L2064.6,515.2 L2066.6,515.5 L2068.5,515.8 L2070.5,516.1 L2072.5,516.3 L2074.4,516.6 L2076.4,516.9 L2078.4,517.1 L2080.3,517.4 L2082.3,517.7 L2084.3,517.9 L2086.3,518.1 L2088.3,518.4 L2090.2,518.6 L2092.2,518.8 L2094.2,519.0 L2096.2,519.3 L2098.2,519.5 L2100.1,519.7 L2102.1,519.9 L2104.1,520.1 L2106.1,520.2 L2108.1,520.4 L2110.1,520.6 L2112.1,520.8 L2114.1,521.0 L2116.0,521.1 L2118.0,521.3 L2120.0,521.4 L2122.0,521.6 L2124.0,521.8 L2126.0,521.9 L2128.0,522.0 L2130.0,522.2 L2132.0,522.3 L2134.0,522.5 L2136.0,522.6 L2138.0,522.7 L2140.0,522.8 L2142.0,523.0 L2144.0,523.1 L2146.0,523.2 L2148.0,523.3 L2150.0,523.4 L2152.0,523.5 L2154.0,523.6 L2156.0,523.7 L2158.0,523.9 L2160.0,524.0 L2162.0,524.1 L2164.0,524.2 L2166.0,524.3 L2168.0,524.4 L2170.0,524.5 L2172.1,524.5 L2174.1,524.6 L2176.1,524.7 L2178.1,524.8 L2180.1,524.9 L2182.1,525.0 L2184.1,525.1 L2186.1,525.2 L2188.1,525.3 L2190.1,525.4 L2192.1,525.5 L2194.1,525.6 L2196.1,525.8 L2198.1,525.9 L2200.1,526.0 L2202.1,526.1 L2204.1,526.2 L2206.1,526.3 L2208.1,526.5 L2210.1,526.6 L2212.1,526.7 L2214.1,526.8 L2216.1,527.0 L2218.1,527.1 L2220.1,527.3 L2222.1,527.4 L2224.1,527.6 L2226.1,527.7 L2228.1,527.9 L2230.1,528.1 L2232.1,528.2 L2234.1,528.4 L2236.1,528.6 L2238.1,528.8 L2240.0,529.0 L2242.0,529.2 L2244.0,529.4 L2246.0,529.6 L2248.0,529.9 L2250.0,530.1 L2251.9,530.3 L2253.9,530.6 L2255.9,530.8 L2257.9,531.1 L2259.9,531.3 L2261.8,531.6 L2263.8,531.9 L2265.8,532.2 L2267.7,532.5 L2269.7,532.8 L2271.7,533.1 L2273.6,533.5 L2275.6,533.8 L2277.6,534.2 L2279.5,534.5 L2281.5,534.9 L2283.4,535.3 L2285.4,535.7 L2287.3,536.1 L2289.3,536.5 L2291.2,536.9 L2293.2,537.3 L2295.1,537.8 L2297.1,538.2 L2299.0,538.7 L2301.0,539.2 L2302.9,539.7 L2304.8,540.2 L2306.8,540.7 L2308.7,541.2 L2310.6,541.7 L2312.5,542.3 L2314.5,542.9 L2316.4,543.4 L2318.3,544.0 L2320.2,544.7 L2322.1,545.3 L2324.0,545.9 L2325.9,546.6 L2327.8,547.2 L2329.7,547.9 L2331.6,548.6 L2333.5,549.3 L2335.4,550.0 L2337.3,550.8 L2339.2,551.5 L2341.1,552.3 L2343.0,553.1 L2344.9,553.9" transform="translate(-1.85,-1.85)"/>
<use href="#c7" transform="translate(3.70,0.00)"/>
<use href="#c7" transform="translate(0.00,3.70)"/>
<use href="#c7" transform="translate(3.70,3.70)"/>
</g>
</g>
<text transform="translate(179.80,1165.70) scale(0.7238,0.7022)" font-family='"Liberation Serif", serif' font-size="100" fill="#000">0</text>
<text transform="translate(125.99,953.03) scale(0.7281,0.7103)" font-family='"Liberation Serif", serif' font-size="100" fill="#000">0.2</text>
<text transform="translate(126.08,740.13) scale(0.7038,0.7103)" font-family='"Liberation Serif", serif' font-size="100" fill="#000">0.4</text>
<text transform="translate(126.05,526.83) scale(0.7127,0.7118)" font-family='"Liberation Serif", serif' font-size="100" fill="#000">0.6</text>
<text transform="translate(126.03,313.94) scale(0.7179,0.7059)" font-family='"Liberation Serif", serif' font-size="100" fill="#000">0.8</text>
<text transform="translate(178.47,102.90) scale(0.7143,0.7313)" font-family='"Liberation Serif", serif' font-size="100" fill="#000">1</text>
<text transform="translate(207.71,1217.09) scale(0.7214,0.7111)" font-family='"Liberation Serif", serif' font-size="100" fill="#000">0</text>
<text transform="translate(593.72,1217.09) scale(0.7279,0.7111)" font-family='"Liberation Serif", serif' font-size="100" fill="#000">200</text>
<text transform="translate(1019.07,1217.09) scale(0.7153,0.7111)" font-family='"Liberation Serif", serif' font-size="100" fill="#000">400</text>
<text transform="translate(1440.22,1217.09) scale(0.7279,0.7111)" font-family='"Liberation Serif", serif' font-size="100" fill="#000">600</text>
<text transform="translate(1863.60,1217.09) scale(0.7254,0.7111)" font-family='"Liberation Serif", serif' font-size="100" fill="#000">800</text>
<text transform="translate(2267.30,1217.09) scale(0.7225,0.7111)" font-family='"Liberation Serif", serif' font-size="100" fill="#000">1000</text>
<text transform="translate(1110.39,1312.56) scale(0.8044,0.7589)" font-family='"Liberation Serif", serif' font-size="100" fill="#262626">Time (ms)</text>
<text transform="translate(90.04,680.83) rotate(-90) scale(0.7739,0.7642)" font-family='"Liberation Serif", serif' font-size="100" fill="#262626">SOL</text>
<rect x="244.6" y="92.7" width="407.9" height="723.6" fill="#fff" stroke="#262626" stroke-width="1.15"/>
<g fill="#262626"><rect x="244.3" y="92.4" width="4.8" height="3.0"/><rect x="652.5" y="92.4" width="5.3" height="5.0"/><rect x="651.3" y="816.3" width="6.2" height="3.1"/></g>
<path d="M264.9,141.3H368" stroke="#FF0000" stroke-width="10.8"/>
<text transform="translate(376.90,167.54) scale(0.6483,0.6593)" font-family='"Liberation Serif", serif' font-size="100" fill="#000">40ms</text>
<path d="M264.9,231.5H368" stroke="#D95319" stroke-width="10.8"/>
<text transform="translate(375.35,257.14) scale(0.6496,0.6593)" font-family='"Liberation Serif", serif' font-size="100" fill="#000">100ms</text>
<path d="M264.9,318.3H368" stroke="#EDB120" stroke-width="10.8"/>
<text transform="translate(375.88,344.04) scale(0.6487,0.6593)" font-family='"Liberation Serif", serif' font-size="100" fill="#000">200ms</text>
<path d="M264.9,408.5H368" stroke="#7E2F8E" stroke-width="10.8"/>
<text transform="translate(375.55,434.14) scale(0.6500,0.6593)" font-family='"Liberation Serif", serif' font-size="100" fill="#000">300ms</text>
<path d="M264.9,498.3H368" stroke="#77AC30" stroke-width="10.8"/>
<text transform="translate(374.88,524.14) scale(0.6525,0.6593)" font-family='"Liberation Serif", serif' font-size="100" fill="#000">500ms</text>
<path d="M264.9,585.5H368" stroke="#4DBEEE" stroke-width="10.8"/>
<text transform="translate(375.68,613.64) scale(0.6495,0.6593)" font-family='"Liberation Serif", serif' font-size="100" fill="#000">700ms</text>
<path d="M264.9,675.4H368" stroke="#A2142F" stroke-width="10.8"/>
<text transform="translate(376.14,701.04) scale(0.6395,0.6593)" font-family='"Liberation Serif", serif' font-size="100" fill="#000">1000ms</text>
<path d="M264.9,765.3H368" stroke="#000" stroke-width="10.8" stroke-dasharray="10.4 10.2"/>
<text transform="translate(376.76,790.45) scale(0.6813,0.6529)" font-family='"Liberation Serif", serif' font-size="100" fill="#000">Recorded</text>
</svg></body></html>
